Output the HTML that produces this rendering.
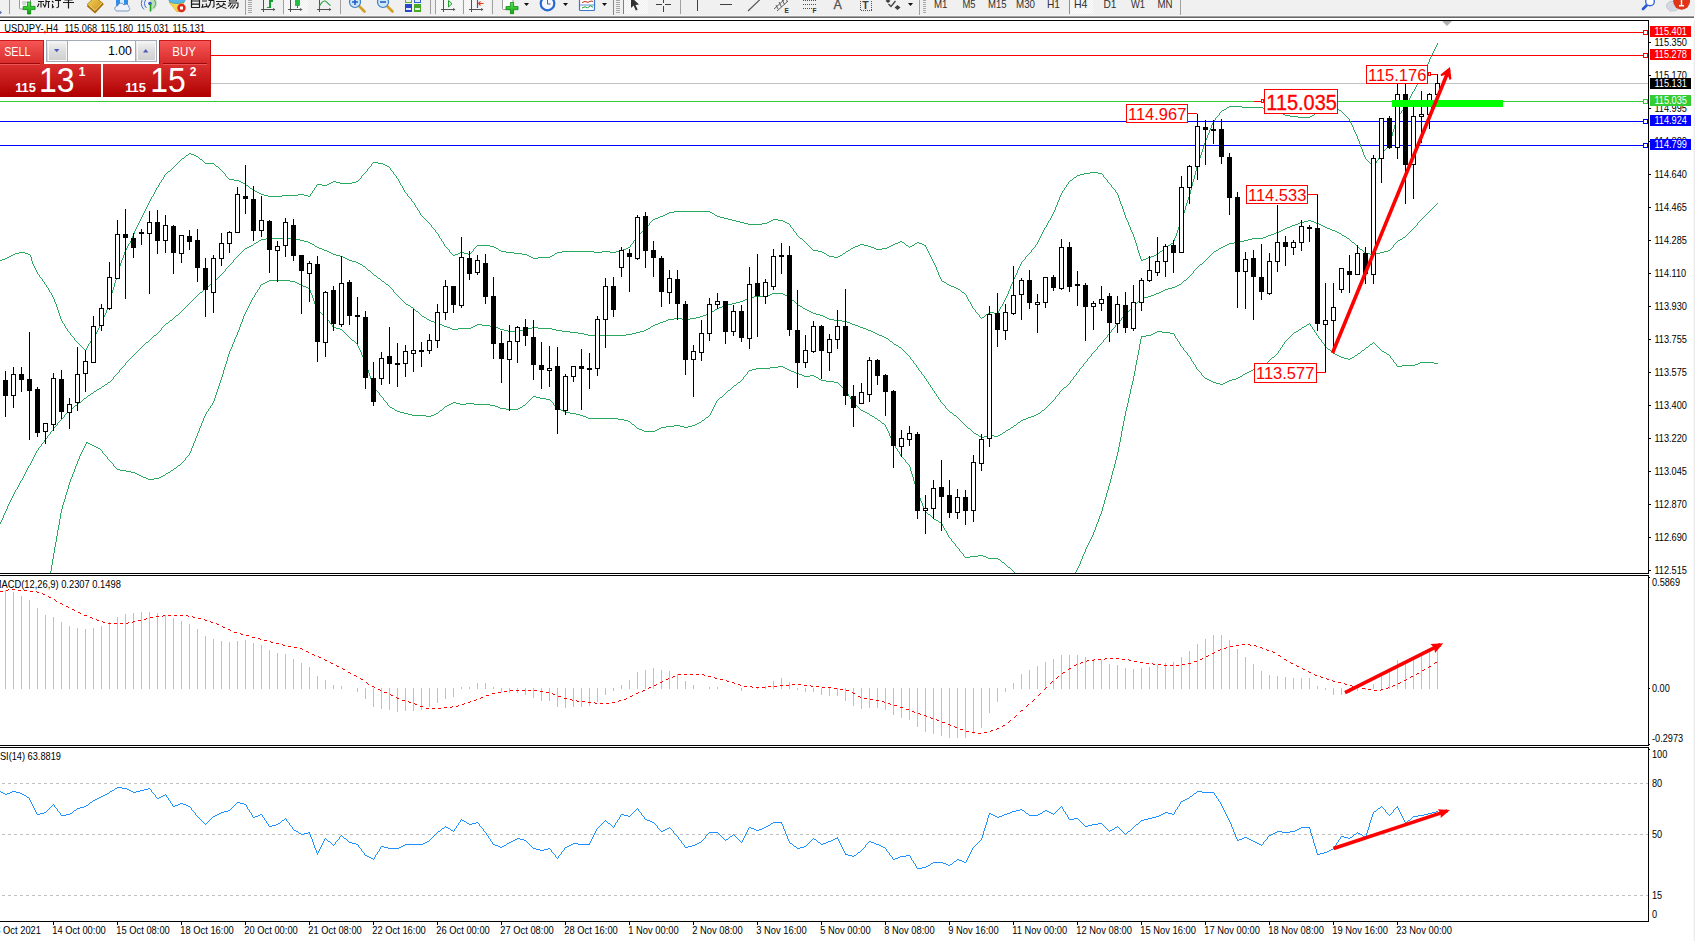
<!DOCTYPE html><html><head><meta charset="utf-8"><title>USDJPY H4</title><style>
html,body{margin:0;padding:0;background:#fff;overflow:hidden}svg{display:block}text{font-family:"Liberation Sans",sans-serif}
.ax{font-size:9px;fill:#000}.ax2{font-size:9.4px;fill:#000}.axw{font-size:9px;fill:#fff}.tb{font-size:11px;fill:#222}
</style></head><body>
<svg width="1695" height="941" viewBox="0 0 1695 941">
<defs>
<linearGradient id="gS" x1="0" y1="0" x2="0" y2="1"><stop offset="0" stop-color="#f85858"/><stop offset="1" stop-color="#d62828"/></linearGradient>
<linearGradient id="gP" x1="0" y1="0" x2="0" y2="1"><stop offset="0" stop-color="#da3030"/><stop offset="1" stop-color="#b00000"/></linearGradient>
<linearGradient id="gB" x1="0" y1="0" x2="0" y2="1"><stop offset="0" stop-color="#f4f4f4"/><stop offset="0.5" stop-color="#dcdcdc"/><stop offset="1" stop-color="#cfcfcf"/></linearGradient>
<clipPath id="cm"><rect x="0" y="21" width="1648" height="552"/></clipPath>
</defs>
<rect width="1695" height="941" fill="#fff"/>
<g clip-path="url(#cm)">
<g shape-rendering="crispEdges">
<rect x="0" y="83" width="1648" height="1" fill="#c0c0c0"/>
<rect x="0" y="32" width="1648" height="1" fill="#ff0000"/>
<rect x="0" y="55" width="1648" height="1" fill="#ff0000"/>
<rect x="0" y="101" width="1648" height="1" fill="#32cd32"/>
<rect x="0" y="121" width="1648" height="1" fill="#0000ff"/>
<rect x="0" y="145" width="1648" height="1" fill="#0000ff"/>
</g>
<path d="M9 256.5h2M529 256.5h2M550 256.5h2M829 256.5h5M838 256.5h2M1151 256.5h3M736 221.5h4M769 221.5h2M783 221.5h2M2 259.5h3M1143 259.5h3M501 251.5h5M562 251.5h32M602 251.5h8M616 251.5h4M818 251.5h4M846 251.5h2M1160 251.5h2M494 247.5h2M628 247.5h2M853 247.5h2M871 247.5h3M887 247.5h2M7 257.5h2M531 257.5h2M538 257.5h12M834 257.5h4M1148 257.5h3M663 215.5h2M715 215.5h2M477 245.5h13M858 245.5h2M864 245.5h4M891 245.5h2M906 245.5h2M912 245.5h2M924 245.5h2M1168 245.5h2M1090 172.5h8M496 248.5h2M626 248.5h2M851 248.5h2M874 248.5h2M882 248.5h5M958 289.5h2M241 182.5h2M331 182.5h2M336 182.5h4M352 182.5h4M229 179.5h5M674 211.5h36M246 185.5h2M322 185.5h5M11 255.5h2M453 255.5h2M527 255.5h2M552 255.5h2M827 255.5h2M840 255.5h2M1154 255.5h2M989 312.5h5M264 195.5h4M282 195.5h16M304 195.5h4M895 243.5h3M915 243.5h2M919 243.5h3M1171 243.5h2M373 162.5h5M317 184.5h5M327 184.5h2M655 218.5h3M724 218.5h4M257 192.5h2M253 190.5h2M740 222.5h4M767 222.5h2M785 222.5h2M986 314.5h2M0 260.5h2M1141 260.5h2M1298 117.5h12M15 253.5h4M25 253.5h3M458 253.5h2M464 253.5h4M514 253.5h8M555 253.5h2M824 253.5h2M843 253.5h2M1263 108.5h3M1325 108.5h3M1336 108.5h2M1227 107.5h2M1242 107.5h21M1328 107.5h4M1334 107.5h2M669 212.5h5M710 212.5h2M1084 173.5h6M1098 173.5h4M653 219.5h2M728 219.5h4M773 219.5h5M658 217.5h2M720 217.5h4M182 158.5h2M191 154.5h3M200 159.5h2M900 241.5h2M243 183.5h2M329 183.5h2M340 183.5h12M168 171.5h2M13 254.5h2M28 254.5h2M455 254.5h3M468 254.5h2M522 254.5h5M1156 254.5h2M732 220.5h4M771 220.5h2M778 220.5h5M19 252.5h6M460 252.5h4M506 252.5h8M557 252.5h5M594 252.5h8M610 252.5h6M822 252.5h2M744 223.5h4M762 223.5h5M787 223.5h2M623 249.5h3M876 249.5h6M268 196.5h14M308 196.5h2M1290 116.5h8M1310 116.5h2M898 242.5h2M902 242.5h2M917 242.5h2M800 238.5h2M234 180.5h5M1070 180.5h2M860 244.5h4M893 244.5h2M922 244.5h2M1229 106.5h13M1332 106.5h2M954 287.5h2M186 155.5h2M194 155.5h2M1224 109.5h2M1266 109.5h2M1323 109.5h2M947 284.5h2M255 191.5h2M1222 110.5h2M1268 110.5h6M1321 110.5h2M1339 110.5h2M982 317.5h2M490 246.5h4M855 246.5h3M868 246.5h3M889 246.5h2M910 246.5h2M1166 246.5h2M499 250.5h2M620 250.5h3M813 250.5h5M848 250.5h2M261 194.5h3M298 194.5h6M944 282.5h2M1074 177.5h2M196 156.5h2M1274 111.5h5M1319 111.5h2M1281 113.5h2M1315 113.5h2M239 181.5h2M333 181.5h3M356 181.5h2M942 281.5h2M5 258.5h2M533 258.5h5M1146 258.5h2M949 285.5h2M748 224.5h14M189 153.5h2M1279 112.5h2M1317 112.5h2M1283 114.5h2M667 213.5h2M712 213.5h2M1285 115.5h5M1312 115.5h2M385 165.5h2M1080 174.5h4M216 166.5h2M387 166.5h2M660 216.5h3M717 216.5h3M250 188.5h2M962 292.5h2M259 193.5h2M994 313.5h4M951 286.5h3M1077 175.5h3M383 164.5h2M205 163.5h9M378 163.5h5M665 214.5h2M956 288.5h2M30.5 255v2M123.5 255v3M930.5 255v2M1026.5 256v1M1140.5 256v3M139.5 221v2M427.5 221v1M651.5 221v1M1048.5 221v2M1127.5 220v2M1181.5 219v3M135.5 229v2M434.5 229v1M644.5 229v1M793.5 229v2M1044.5 228v2M1130.5 227v3M1178.5 227v3M31.5 257v4M122.5 258v2M932.5 259v2M1024.5 259v1M1141.5 259v1M1423.5 72v2M125.5 250v2M449.5 250v2M472.5 251v1M928.5 251v2M1031.5 250v2M1138.5 250v3M127.5 246v2M446.5 247v1M475.5 247v1M810.5 247v1M909.5 247v1M926.5 247v2M1034.5 247v1M1137.5 246v4M1165.5 247v1M1435.5 47v2M931.5 257v2M1025.5 257v2M142.5 215v2M421.5 215v1M1052.5 214v2M1125.5 215v3M1183.5 213v3M128.5 244v2M444.5 244v2M630.5 245v2M808.5 245v1M1035.5 245v2M1136.5 243v3M167.5 172v1M223.5 172v1M365.5 172v1M393.5 172v2M1195.5 171v4M132.5 236v3M439.5 236v2M637.5 236v1M798.5 236v1M1040.5 236v2M1133.5 234v3M1175.5 236v2M37.5 272v2M117.5 273v4M938.5 272v3M1016.5 273v2M1406.5 104v2M126.5 248v2M447.5 248v1M474.5 248v1M811.5 248v1M1033.5 248v1M1164.5 248v1M48.5 288v2M113.5 287v3M1009.5 289v2M160.5 182v1M399.5 181v2M1068.5 182v2M1108.5 182v1M1192.5 182v4M162.5 179v1M359.5 179v1M398.5 179v2M1072.5 179v1M1106.5 179v1M1193.5 179v3M144.5 211v2M419.5 211v2M1054.5 210v2M1123.5 209v3M1184.5 210v3M158.5 185v2M316.5 185v2M401.5 185v1M1066.5 185v2M1111.5 185v2M38.5 274v1M1027.5 255v1M1139.5 253v3M58.5 310v3M106.5 310v3M976.5 312v1M998.5 311v2M133.5 234v2M438.5 234v2M639.5 234v1M796.5 233v2M1041.5 234v2M1176.5 233v3M1419.5 80v2M153.5 194v2M310.5 194v2M407.5 194v2M1060.5 195v2M1118.5 195v3M1189.5 194v3M129.5 243v1M443.5 242v2M632.5 243v1M806.5 243v1M904.5 243v1M1037.5 242v2M178.5 162v1M204.5 162v1M1198.5 161v3M1369.5 162v1M1376.5 161v2M159.5 183v2M245.5 184v1M400.5 183v2M1067.5 184v1M1110.5 184v1M131.5 239v2M441.5 239v2M634.5 240v1M803.5 240v1M1038.5 240v2M1135.5 240v3M1174.5 238v3M141.5 217v2M424.5 218v1M1050.5 218v2M1126.5 218v2M1182.5 216v3M154.5 192v2M312.5 191v2M405.5 192v1M1062.5 191v2M1116.5 192v1M1190.5 190v4M1415.5 87v2M155.5 190v2M313.5 190v1M404.5 190v2M1063.5 190v1M1115.5 190v2M428.5 222v1M650.5 222v1M1128.5 222v3M1180.5 222v3M55.5 302v2M108.5 303v3M970.5 302v2M1003.5 302v2M59.5 313v3M105.5 313v2M978.5 314v1M121.5 260v3M1023.5 260v1M1216.5 117v1M1347.5 117v1M1397.5 116v2M124.5 252v3M451.5 253v1M470.5 253v1M929.5 253v2M1029.5 253v1M1158.5 253v1M1215.5 118v2M1348.5 118v1M1396.5 118v4M1226.5 108v1M1404.5 108v1M150.5 199v2M411.5 199v2M1058.5 200v2M1119.5 198v3M1187.5 200v3M1349.5 119v2M136.5 227v2M432.5 227v1M646.5 227v1M791.5 227v1M1045.5 227v1M32.5 261v3M933.5 261v2M1021.5 262v2M1405.5 106v2M145.5 209v2M418.5 210v1M635.5 239v1M802.5 239v1M1039.5 238v2M1134.5 237v3M64.5 324v2M100.5 324v2M1053.5 212v2M1124.5 212v3M166.5 173v1M224.5 173v1M364.5 173v1M1211.5 125v3M1352.5 125v2M1394.5 125v4M80.5 345v1M88.5 344v2M1022.5 261v1M1207.5 135v3M1356.5 134v2M1392.5 132v4M164.5 175v2M226.5 176v1M361.5 176v2M396.5 176v2M1076.5 176v1M1103.5 175v2M1194.5 175v4M49.5 290v2M112.5 290v3M961.5 291v1M1008.5 291v3M33.5 264v2M120.5 263v3M935.5 265v2M1020.5 264v2M140.5 219v2M425.5 219v1M423.5 217v1M1051.5 216v2M1202.5 149v3M1362.5 149v3M1383.5 151v2M199.5 158v1M1199.5 158v3M1365.5 157v2M1378.5 158v2M188.5 154v1M1201.5 152v3M1363.5 152v3M1381.5 154v1M41.5 278v1M116.5 277v3M940.5 277v2M1014.5 277v2M1429.5 59v3M181.5 159v1M1366.5 159v1M42.5 279v2M115.5 280v3M941.5 279v2M1013.5 279v3M130.5 241v2M442.5 241v1M633.5 241v2M804.5 241v1M1173.5 241v2M1109.5 183v1M222.5 171v1M366.5 171v1M392.5 171v1M452.5 254v1M554.5 254v1M826.5 254v1M842.5 254v1M1028.5 254v1M148.5 203v2M414.5 203v2M1057.5 202v3M1121.5 204v2M1186.5 203v3M426.5 220v1M652.5 220v1M1049.5 220v1M450.5 252v1M471.5 252v1M845.5 252v1M1030.5 252v1M1159.5 252v1M138.5 223v2M429.5 223v1M649.5 223v2M1047.5 223v2M54.5 299v3M110.5 296v4M968.5 299v2M1005.5 298v2M448.5 249v1M473.5 249v2M498.5 249v1M812.5 249v1M850.5 249v1M927.5 249v2M1032.5 249v1M1163.5 249v1M149.5 201v2M413.5 202v1M1120.5 201v3M152.5 196v1M408.5 196v1M134.5 231v3M436.5 232v1M641.5 232v1M795.5 232v1M1042.5 232v2M1132.5 232v2M1177.5 230v3M146.5 207v2M416.5 207v1M1055.5 207v3M1122.5 206v3M1185.5 206v4M1217.5 116v1M1346.5 116v1M805.5 242v1M934.5 263v2M440.5 238v1M636.5 237v2M72.5 336v1M94.5 336v1M161.5 180v2M358.5 180v1M1107.5 180v2M36.5 270v2M118.5 270v3M937.5 270v2M1017.5 270v3M631.5 244v1M807.5 244v1M905.5 244v1M914.5 244v1M1036.5 244v1M1170.5 244v1M65.5 326v2M99.5 326v2M1210.5 128v2M1353.5 127v3M47.5 287v1M1010.5 286v3M1200.5 155v3M1364.5 155v2M1380.5 155v2M1338.5 109v1M1403.5 109v1M1428.5 62v2M45.5 284v1M114.5 283v4M1011.5 284v2M57.5 307v3M107.5 306v4M972.5 306v2M1000.5 307v2M1402.5 110v1M60.5 316v3M103.5 317v3M980.5 317v1M445.5 246v1M476.5 246v1M809.5 246v1M908.5 246v1M925.5 246v1M981.5 318v1M1424.5 70v2M109.5 300v3M969.5 301v1M1004.5 300v2M75.5 340v1M91.5 340v1M1162.5 250v1M1061.5 193v2M1117.5 193v2M973.5 308v1M1357.5 136v3M1391.5 136v3M44.5 282v2M1012.5 282v2M799.5 237v1M163.5 177v2M227.5 177v1M1104.5 177v1M185.5 156v1M1221.5 111v1M1341.5 111v1M1401.5 111v2M228.5 178v1M360.5 178v1M397.5 178v1M1073.5 178v1M1105.5 178v1M1219.5 113v2M1343.5 113v1M1400.5 113v1M412.5 201v1M39.5 275v2M939.5 275v2M1015.5 275v2M1069.5 181v1M248.5 186v1M402.5 186v2M1191.5 186v4M43.5 281v1M974.5 309v1M999.5 309v2M433.5 228v1M645.5 228v1M792.5 228v1M77.5 342v1M90.5 341v2M137.5 225v2M431.5 225v2M647.5 226v1M790.5 225v2M1046.5 225v2M1129.5 225v2M1179.5 225v2M74.5 338v2M92.5 338v2M46.5 285v2M84.5 349v1M86.5 348v2M53.5 297v2M967.5 297v2M1006.5 296v2M430.5 224v1M789.5 224v1M437.5 233v1M640.5 233v1M1206.5 138v2M34.5 266v2M119.5 266v4M1019.5 266v2M1382.5 153v1M1220.5 112v1M1342.5 112v1M1314.5 114v1M1344.5 114v1M1399.5 114v1M435.5 230v2M642.5 231v1M794.5 231v1M1043.5 230v2M1131.5 230v2M1204.5 143v3M1360.5 144v3M1389.5 143v2M143.5 213v2M420.5 213v2M1208.5 133v2M157.5 187v1M249.5 187v1M315.5 187v1M1065.5 187v1M1112.5 187v1M1218.5 115v1M1345.5 115v1M1398.5 115v1M1059.5 197v3M1188.5 197v3M171.5 169v1M220.5 169v1M367.5 169v2M390.5 168v2M1196.5 167v4M1431.5 55v2M1205.5 140v3M1358.5 139v2M1390.5 139v4M52.5 295v2M111.5 293v3M966.5 295v2M1007.5 294v2M35.5 268v2M936.5 267v3M1018.5 268v2M62.5 321v2M101.5 322v2M1203.5 146v3M1361.5 147v2M1387.5 146v2M66.5 328v1M98.5 328v2M76.5 341v1M180.5 160v1M202.5 160v1M1367.5 160v1M1377.5 160v1M1359.5 141v3M175.5 165v1M215.5 165v1M371.5 164v2M1197.5 164v3M1372.5 165v1M1374.5 164v2M51.5 293v2M964.5 293v1M70.5 333v2M96.5 332v2M165.5 174v1M225.5 174v2M363.5 174v1M394.5 174v1M1102.5 174v1M1385.5 149v1M960.5 290v1M417.5 208v2M83.5 348v1M174.5 166v1M370.5 166v1M1373.5 166v1M1209.5 130v3M1354.5 130v2M1393.5 129v3M422.5 216v1M156.5 188v2M314.5 188v2M403.5 188v2M1064.5 188v2M1113.5 188v1M173.5 167v1M218.5 167v1M369.5 167v1M389.5 167v1M50.5 292v1M71.5 335v1M95.5 334v2M311.5 193v1M406.5 193v1M648.5 225v1M1436.5 45v2M638.5 235v1M797.5 235v1M1213.5 121v2M1350.5 121v2M1395.5 122v3M1212.5 123v2M1351.5 123v2M1420.5 78v2M965.5 294v1M1355.5 132v2M977.5 313v1M988.5 313v1M179.5 161v1M203.5 161v1M1368.5 161v1M151.5 197v2M409.5 197v1M975.5 310v2M78.5 343v1M89.5 343v1M643.5 230v1M1214.5 120v1M85.5 350v1M410.5 198v1M172.5 168v1M219.5 168v1M368.5 168v1M946.5 283v1M104.5 315v2M979.5 315v2M984.5 316v1M69.5 332v1M1418.5 82v2M1430.5 57v2M147.5 205v2M415.5 205v2M1056.5 205v2M1414.5 89v2M1410.5 96v2M40.5 277v1M362.5 175v1M395.5 175v1M1409.5 98v2M79.5 344v1M176.5 164v1M214.5 164v1M1371.5 164v1M184.5 157v1M198.5 157v1M1379.5 157v1M985.5 315v1M1388.5 145v1M81.5 346v1M87.5 346v2M1427.5 64v2M1386.5 148v1M177.5 163v1M372.5 163v1M1370.5 163v1M1375.5 163v1M56.5 304v3M971.5 304v2M1002.5 304v2M1413.5 91v1M1426.5 66v2M252.5 189v1M1114.5 189v1M1437.5 43v2M1425.5 68v2M68.5 331v1M97.5 330v2M714.5 214v1M170.5 170v1M221.5 170v1M391.5 170v1M1416.5 85v2M1412.5 92v2M67.5 329v2M1422.5 74v2M1434.5 49v2M61.5 319v2M82.5 347v1M1433.5 51v2M102.5 320v2M1384.5 150v1M1432.5 53v2M63.5 323v1M1001.5 306v1M73.5 337v1M93.5 337v1M1421.5 76v2M1411.5 94v2M1407.5 102v2M1408.5 100v2M1417.5 84v1" fill="none" stroke="#2aa860" stroke-width="1" shape-rendering="crispEdges"/>
<path d="M266 238.5h30M1252 238.5h11M1347 238.5h2M504 330.5h4M520 330.5h4M556 330.5h6M644 330.5h2M868 330.5h3M452 329.5h6M500 329.5h4M524 329.5h4M552 329.5h4M646 329.5h2M866 329.5h2M322 249.5h2M1360 249.5h2M508 331.5h12M562 331.5h8M640 331.5h4M871 331.5h2M450 328.5h2M458 328.5h13M498 328.5h2M528 328.5h4M538 328.5h14M648 328.5h2M863 328.5h3M329 252.5h2M1380 252.5h4M249 246.5h2M315 246.5h2M1223 246.5h2M256 242.5h2M308 242.5h2M1234 242.5h6M1352 242.5h2M154 335.5h2M588 335.5h38M879 335.5h3M91 393.5h2M304 241.5h4M1240 241.5h4M331 253.5h2M1365 253.5h5M1376 253.5h4M894 344.5h2M674 318.5h8M690 318.5h6M827 318.5h2M979 436.5h2M984 436.5h4M994 436.5h4M411 307.5h2M719 307.5h3M368 270.5h2M427 319.5h2M668 319.5h6M682 319.5h8M829 319.5h5M1021 420.5h2M324 250.5h3M1216 250.5h2M1388 250.5h2M352 261.5h4M345 258.5h2M336 255.5h4M570 332.5h8M636 332.5h4M873 332.5h2M988 435.5h6M998 435.5h2M710 312.5h2M811 312.5h2M254 243.5h2M310 243.5h2M1229 243.5h5M259 240.5h2M300 240.5h4M1244 240.5h4M1398 240.5h2M245 248.5h2M319 248.5h3M1219 248.5h2M950 412.5h2M447 327.5h3M471 327.5h2M495 327.5h3M532 327.5h6M860 327.5h3M166 323.5h2M436 323.5h3M658 323.5h2M850 323.5h2M442 325.5h2M475 325.5h2M482 325.5h8M653 325.5h2M855 325.5h3M363 266.5h2M749 297.5h5M1144 297.5h4M374 275.5h2M882 336.5h2M767 295.5h3M785 295.5h2M1151 295.5h3M75 405.5h2M408 305.5h2M724 305.5h4M798 305.5h2M717 308.5h2M803 308.5h2M578 333.5h6M632 333.5h4M875 333.5h2M1300 222.5h4M1314 222.5h2M356 262.5h2M1271 234.5h3M1011 427.5h2M1038 413.5h2M708 313.5h2M813 313.5h3M97 389.5h2M1266 236.5h2M1344 236.5h2M434 322.5h2M660 322.5h3M847 322.5h3M1292 225.5h3M1321 225.5h2M84 398.5h2M747 298.5h2M1141 298.5h3M1003 432.5h2M210 284.5h2M386 284.5h2M1179 284.5h2M1276 232.5h3M1337 232.5h2M1285 228.5h2M1327 228.5h3M1177 285.5h2M884 337.5h2M715 309.5h2M805 309.5h2M1175 286.5h2M740 301.5h3M1274 233.5h2M1339 233.5h2M1168 288.5h4M1263 237.5h3M1403 237.5h2M378 278.5h2M1008 429.5h2M358 263.5h2M406 304.5h2M728 304.5h4M770 294.5h2M783 294.5h2M1154 294.5h2M743 300.5h2M792 300.5h2M1064 387.5h2M732 303.5h4M340 256.5h3M439 324.5h3M477 324.5h5M655 324.5h3M852 324.5h3M1031 416.5h3M88 395.5h2M1281 230.5h2M1332 230.5h3M206 287.5h2M1172 287.5h3M349 260.5h3M170 320.5h2M429 320.5h2M666 320.5h2M834 320.5h8M105 384.5h2M1018 422.5h2M416 311.5h2M712 311.5h2M809 311.5h2M772 293.5h11M1156 293.5h3M584 334.5h4M626 334.5h6M877 334.5h2M1287 227.5h3M1325 227.5h2M1295 224.5h3M1319 224.5h2M327 251.5h2M1214 251.5h2M1384 251.5h4M247 247.5h2M317 247.5h2M1221 247.5h2M94 391.5h2M200 292.5h2M1159 292.5h2M251 245.5h2M1225 245.5h2M261 239.5h5M296 239.5h4M1248 239.5h4M1400 239.5h2M312 244.5h2M1227 244.5h2M754 296.5h13M787 296.5h2M1148 296.5h3M424 317.5h2M696 317.5h4M825 317.5h2M976 434.5h2M1000 434.5h2M1161 291.5h2M146 342.5h2M382 281.5h2M736 302.5h4M722 306.5h2M800 306.5h2M70 409.5h2M422 316.5h2M700 316.5h3M823 316.5h2M1026 418.5h2M1283 229.5h2M1330 229.5h2M886 338.5h2M343 257.5h2M102 386.5h2M1165 289.5h3M444 326.5h3M473 326.5h2M490 326.5h5M651 326.5h2M858 326.5h2M1298 223.5h2M1316 223.5h3M79 402.5h2M431 321.5h3M663 321.5h3M842 321.5h5M1268 235.5h3M1342 235.5h2M333 254.5h3M1370 254.5h6M176 315.5h2M703 315.5h3M820 315.5h3M974 433.5h2M706 314.5h2M816 314.5h4M1028 417.5h3M981 437.5h3M807 310.5h2M1279 231.5h2M1335 231.5h2M108 382.5h2M968 428.5h2M745 299.5h2M1304 221.5h4M1311 221.5h3M1006 430.5h2M896 345.5h2M347 259.5h2M1308 220.5h3M954 415.5h2M1034 415.5h2M1036 414.5h2M899 347.5h2M1184 280.5h2M890 341.5h2M1163 290.5h2M99 388.5h2M1042 410.5h2M1023 419.5h3M360 264.5h2M1200 264.5h2M1014 425.5h2M1290 226.5h2M1323 226.5h2M1402.5 238v1M160.5 330v1M1111.5 330v2M161.5 328v2M1112.5 329v1M244.5 249v1M1218.5 249v1M1390.5 249v1M119.5 370v2M919.5 370v1M1079.5 369v2M159.5 331v1M1113.5 328v1M241.5 252v1M1213.5 252v1M1364.5 252v1M1357.5 246v1M1393.5 245v2M1396.5 242v1M1107.5 335v2M935.5 393v1M1059.5 392v2M258.5 241v1M1351.5 241v1M1397.5 241v1M240.5 253v1M1212.5 253v1M114.5 376v1M924.5 376v2M1074.5 376v1M144.5 344v1M1100.5 344v1M173.5 318v1M426.5 318v1M1121.5 318v2M47.5 436v2M185.5 307v1M802.5 307v1M1132.5 307v1M125.5 363v2M914.5 363v1M1084.5 363v1M225.5 269v2M1194.5 270v1M172.5 319v1M60.5 420v1M960.5 420v1M1430.5 210v1M243.5 250v1M1362.5 250v1M233.5 260v2M1204.5 261v1M28.5 466v2M235.5 258v1M1207.5 258v1M11.5 498v2M238.5 255v1M1210.5 255v1M158.5 332v1M1110.5 332v1M48.5 435v1M978.5 435v1M180.5 312v1M418.5 312v1M1127.5 312v1M1354.5 243v1M1395.5 243v1M1350.5 240v1M1359.5 248v1M1391.5 248v1M51.5 431v1M972.5 431v1M1005.5 431v1M67.5 412v1M1040.5 412v1M129.5 359v1M911.5 359v1M1087.5 359v2M162.5 327v1M650.5 327v1M1114.5 327v1M1117.5 323v1M164.5 325v1M1115.5 325v2M228.5 266v1M1198.5 266v1M195.5 297v1M399.5 297v1M789.5 297v1M220.5 275v1M1190.5 275v1M153.5 336v1M197.5 295v1M397.5 295v1M944.5 405v1M1048.5 405v1M112.5 379v1M926.5 379v2M1072.5 379v1M187.5 305v1M1134.5 305v1M184.5 308v1M413.5 308v1M1131.5 308v1M157.5 333v1M1109.5 333v1M1418.5 222v1M232.5 262v1M1203.5 262v1M59.5 421v1M961.5 421v1M1020.5 421v1M104.5 385v1M930.5 385v2M1067.5 385v1M1341.5 234v1M1407.5 234v1M54.5 427v1M967.5 427v1M66.5 413v1M952.5 413v1M39.5 447v1M179.5 313v1M419.5 313v1M1126.5 313v1M932.5 388v2M1062.5 389v1M22.5 478v2M1405.5 236v1M168.5 322v1M1118.5 322v1M132.5 356v1M909.5 356v1M1090.5 356v1M1416.5 225v1M938.5 397v2M1055.5 397v2M194.5 298v1M400.5 298v1M790.5 298v1M50.5 432v2M973.5 432v1M1409.5 232v1M1413.5 228v1M209.5 285v1M388.5 285v1M152.5 337v1M1106.5 337v1M183.5 309v1M414.5 309v1M1130.5 309v1M208.5 286v1M389.5 286v1M191.5 301v1M403.5 301v1M794.5 301v1M1138.5 301v1M367.5 269v1M1195.5 269v1M1408.5 233v1M42.5 443v1M205.5 288v1M391.5 288v1M73.5 407v1M945.5 406v2M1046.5 407v1M1346.5 237v1M217.5 278v1M1187.5 278v1M53.5 428v2M970.5 429v1M82.5 400v1M940.5 400v2M1053.5 400v1M113.5 377v2M925.5 378v1M1073.5 377v2M231.5 263v1M1202.5 263v1M188.5 304v1M797.5 304v1M1135.5 304v1M198.5 294v1M396.5 294v1M213.5 282v1M384.5 282v1M1182.5 282v1M224.5 271v1M370.5 271v1M1193.5 271v2M192.5 300v1M402.5 300v1M1139.5 300v1M101.5 387v1M931.5 387v1M189.5 303v1M405.5 303v1M796.5 303v1M1136.5 303v1M1.5 520v2M81.5 401v1M1052.5 401v1M237.5 256v1M1209.5 256v1M165.5 324v1M1116.5 324v1M64.5 415v2M956.5 416v1M216.5 279v1M380.5 279v1M1186.5 279v1M936.5 394v2M1057.5 395v1M135.5 353v1M906.5 353v1M1092.5 353v1M1411.5 230v1M390.5 287v1M1205.5 260v1M1120.5 320v1M929.5 384v1M1068.5 384v1M126.5 362v1M913.5 361v2M1085.5 362v1M58.5 422v1M962.5 422v1M83.5 399v1M939.5 399v1M1054.5 399v1M138.5 350v1M903.5 350v1M1095.5 350v1M1437.5 203v1M181.5 311v1M1128.5 311v1M199.5 293v1M395.5 293v1M8.5 504v2M156.5 334v1M1108.5 334v1M1414.5 227v1M1417.5 223v2M242.5 251v1M1363.5 251v1M145.5 343v1M893.5 343v1M1101.5 343v1M1358.5 247v1M1392.5 247v1M934.5 391v2M1060.5 391v1M55.5 426v1M966.5 426v1M1013.5 426v1M24.5 474v2M394.5 292v1M86.5 397v1M314.5 245v1M1356.5 245v1M7.5 506v3M1349.5 239v1M253.5 244v1M1355.5 244v1M1394.5 244v1M196.5 296v1M398.5 296v1M174.5 317v1M1122.5 317v1M20.5 481v2M49.5 434v1M133.5 355v1M908.5 355v1M1091.5 354v2M202.5 291v1M393.5 290v2M892.5 342v1M1102.5 342v1M74.5 406v1M1047.5 406v1M214.5 281v1M1183.5 281v1M43.5 442v1M915.5 364v1M1083.5 364v2M38.5 448v2M920.5 371v1M1078.5 371v1M190.5 302v1M404.5 302v1M795.5 302v1M1137.5 302v1M186.5 306v1M410.5 306v1M1133.5 306v1M137.5 351v1M904.5 351v1M1094.5 351v1M34.5 455v2M947.5 409v1M1044.5 409v1M131.5 357v1M910.5 357v2M1089.5 357v1M175.5 316v1M1123.5 316v1M229.5 265v1M362.5 265v1M1199.5 265v1M62.5 418v1M958.5 418v1M1412.5 229v1M151.5 338v1M1105.5 338v1M226.5 268v1M366.5 268v1M1196.5 268v1M218.5 277v1M377.5 277v1M1188.5 277v1M236.5 257v1M1208.5 257v1M1066.5 386v1M204.5 289v1M392.5 289v1M163.5 326v1M1424.5 216v1M33.5 457v2M130.5 358v1M1088.5 358v1M1431.5 209v1M29.5 465v1M221.5 274v1M373.5 274v1M1191.5 274v1M107.5 383v1M928.5 382v2M1069.5 383v1M941.5 402v1M1051.5 402v1M124.5 365v1M916.5 365v2M78.5 403v1M942.5 403v1M1050.5 403v1M77.5 404v1M943.5 404v1M1049.5 404v1M169.5 321v1M1119.5 321v1M87.5 396v1M937.5 396v1M1056.5 396v1M111.5 380v1M1071.5 380v1M227.5 267v1M365.5 267v1M1197.5 267v1M1406.5 235v1M239.5 254v1M1211.5 254v1M134.5 354v1M907.5 354v1M421.5 315v1M1124.5 315v1M128.5 360v1M912.5 360v1M150.5 339v1M888.5 339v1M1104.5 339v1M127.5 361v1M1086.5 361v1M123.5 366v1M1082.5 366v1M110.5 381v1M927.5 381v1M1070.5 381v2M93.5 392v1M1002.5 433v1M23.5 476v2M178.5 314v1M420.5 314v1M1125.5 314v1M19.5 483v2M63.5 417v1M957.5 417v1M3.5 515v3M15.5 490v2M142.5 346v1M898.5 346v1M1098.5 346v1M90.5 394v1M1058.5 394v1M182.5 310v1M415.5 310v1M714.5 310v1M1129.5 310v1M18.5 485v2M120.5 369v1M918.5 368v2M1410.5 231v1M2.5 518v2M14.5 492v2M1423.5 217v1M68.5 411v1M949.5 411v1M1041.5 411v1M118.5 372v1M921.5 372v2M1077.5 372v1M9.5 502v2M96.5 390v1M933.5 390v1M1061.5 390v1M1010.5 428v1M115.5 375v1M923.5 375v1M1075.5 375v1M193.5 299v1M401.5 299v1M791.5 299v1M1140.5 299v1M1419.5 221v1M41.5 444v2M52.5 430v1M971.5 430v1M72.5 408v1M946.5 408v1M1045.5 408v1M149.5 340v1M889.5 340v1M1103.5 340v2M143.5 345v1M1099.5 345v1M121.5 368v1M1080.5 368v1M234.5 259v1M1206.5 259v1M117.5 373v1M1076.5 373v2M1436.5 204v1M1420.5 220v1M10.5 500v2M65.5 414v1M953.5 414v1M141.5 347v1M1097.5 347v2M57.5 423v2M963.5 423v1M1017.5 423v1M215.5 280v1M381.5 280v1M36.5 451v2M116.5 374v1M922.5 374v1M32.5 459v2M148.5 341v1M203.5 290v1M35.5 453v2M31.5 461v2M1428.5 212v1M27.5 468v2M964.5 424v1M1016.5 424v1M136.5 352v1M905.5 352v1M1093.5 352v1M1435.5 205v1M1432.5 208v1M30.5 463v2M26.5 470v2M122.5 367v1M917.5 367v1M1081.5 367v1M219.5 276v1M376.5 276v1M1189.5 276v1M44.5 440v2M1063.5 388v1M222.5 273v1M372.5 273v1M1192.5 273v1M13.5 494v2M1422.5 218v1M223.5 272v1M371.5 272v1M1429.5 211v1M69.5 410v1M948.5 410v1M61.5 419v1M959.5 419v1M230.5 264v1M6.5 509v2M46.5 438v1M25.5 472v2M139.5 349v1M902.5 349v1M1096.5 349v1M5.5 511v2M40.5 446v1M4.5 513v2M212.5 283v1M385.5 283v1M1181.5 283v1M1421.5 219v1M1433.5 207v1M1425.5 215v1M45.5 439v1M56.5 425v1M965.5 425v1M140.5 348v1M901.5 348v1M1415.5 226v1M17.5 487v2M1427.5 213v1M1434.5 206v1M0.5 522v2M12.5 496v2M21.5 480v1M37.5 450v1M16.5 489v1M1426.5 214v1" fill="none" stroke="#2aa860" stroke-width="1" shape-rendering="crispEdges"/>
<path d="M644 431.5h11M506 409.5h12M559 409.5h2M336 328.5h4M392 408.5h2M500 408.5h6M518 408.5h2M557 408.5h2M826 381.5h8M1211 381.5h2M1227 381.5h2M1335 354.5h2M1387 354.5h2M1216 383.5h4M1223 383.5h2M1043 588.5h2M1048 588.5h4M1058 588.5h5M799 374.5h3M1243 374.5h2M970 556.5h8M983 556.5h3M96 447.5h2M148 479.5h6M1402 365.5h13M816 377.5h2M1238 377.5h2M412 415.5h14M431 415.5h3M580 415.5h3M870 415.5h2M1153 333.5h2M1170 333.5h4M796 373.5h3M1245 373.5h2M934 519.5h2M174 468.5h2M1041 587.5h2M1052 587.5h6M1063 587.5h3M1220 384.5h3M126 471.5h5M749 370.5h3M789 370.5h2M1251 370.5h2M1034 584.5h2M632 424.5h2M695 424.5h2M624 420.5h4M702 420.5h2M878 420.5h2M728 390.5h2M1141 336.5h5M146 478.5h2M154 478.5h5M340 329.5h2M1299 329.5h2M804 376.5h6M814 376.5h2M1240 376.5h2M395 410.5h2M440 410.5h2M561 410.5h2M861 410.5h2M449 404.5h2M460 404.5h6M474 404.5h16M1008 567.5h2M139 475.5h2M163 475.5h2M135 473.5h2M166 473.5h2M143 477.5h3M159 477.5h2M1304 326.5h2M533 396.5h3M699 422.5h2M1272 357.5h2M1341 357.5h3M1352 357.5h2M586 417.5h2M706 417.5h2M1344 358.5h4M1350 358.5h2M770 367.5h8M783 367.5h2M791 371.5h3M1249 371.5h2M752 369.5h4M787 369.5h2M1253 369.5h9M1333 353.5h2M1358 353.5h2M447 405.5h2M490 405.5h5M523 405.5h2M120 470.5h6M171 470.5h2M1151 334.5h2M738 382.5h2M834 382.5h4M1213 382.5h3M1225 382.5h2M661 427.5h5M684 427.5h4M1415 364.5h3M1146 335.5h5M269 280.5h21M1036 585.5h3M1068 585.5h2M1382 351.5h2M451 403.5h2M456 403.5h4M466 403.5h8M998 559.5h2M453 402.5h3M1348 359.5h2M92 445.5h2M86 442.5h2M1337 355.5h2M1355 355.5h2M1370 344.5h2M1328 349.5h2M426 416.5h5M583 416.5h3M872 416.5h2M445 406.5h2M495 406.5h3M802 375.5h2M810 375.5h4M618 419.5h6M333 327.5h3M1302 327.5h2M397 411.5h3M563 411.5h2M863 411.5h2M352 340.5h2M408 414.5h4M434 414.5h2M576 414.5h4M546 399.5h4M178 465.5h2M978 555.5h5M965 557.5h5M986 557.5h2M308 288.5h2M1031 583.5h3M306 287.5h2M390 407.5h2M498 407.5h2M520 407.5h2M1362 350.5h2M1339 356.5h2M588 418.5h30M875 418.5h2M540 398.5h6M94 446.5h2M936 520.5h2M734 385.5h2M756 368.5h14M785 368.5h2M778 366.5h5M1397 366.5h5M1016 574.5h2M794 372.5h2M1247 372.5h2M988 558.5h10M131 472.5h4M168 472.5h2M1157 331.5h5M1296 331.5h2M819 379.5h2M1207 379.5h2M1232 379.5h4M821 380.5h5M1209 380.5h2M1229 380.5h3M1420 362.5h14M265 282.5h2M295 282.5h2M1418 363.5h2M1434 363.5h4M666 426.5h8M680 426.5h4M688 426.5h4M639 429.5h3M657 429.5h2M303 286.5h3M117 469.5h3M1155 332.5h2M1162 332.5h8M1294 332.5h2M90 444.5h2M1045 589.5h3M1023 579.5h2M1029 582.5h2M674 425.5h6M692 425.5h3M536 397.5h4M720 397.5h2M642 430.5h2M655 430.5h2M939 522.5h2M404 413.5h4M436 413.5h2M570 413.5h6M867 413.5h2M928 514.5h2M1384 352.5h2M267 281.5h2M290 281.5h5M141 476.5h2M161 476.5h2M1002 562.5h2M261 284.5h2M299 284.5h2M1027 581.5h2M1021 578.5h2M637 428.5h2M659 428.5h2M697 423.5h2M882 423.5h2M1307 324.5h2M88 443.5h2M98 448.5h2M1366 347.5h2M400 412.5h4M565 412.5h5M865 412.5h2M301 285.5h2M1205 378.5h2M1236 378.5h2M1025 580.5h2M137 474.5h2M263 283.5h2M297 283.5h2M628 421.5h2M1039 586.5h2M1066 586.5h2M322 314.5h2M318 311.5h2M56.5 536v6M950.5 538v1M1091.5 537v2M215.5 395v3M380.5 395v1M723.5 395v1M848.5 394v2M1129.5 394v4M198.5 431v2M888.5 431v2M1121.5 431v6M208.5 409v2M394.5 409v1M442.5 409v1M712.5 409v2M860.5 409v1M1126.5 407v4M239.5 327v3M1301.5 328v1M1312.5 327v2M209.5 408v1M443.5 408v1M713.5 407v2M859.5 408v1M231.5 347v2M359.5 348v2M1139.5 344v6M1183.5 348v2M1280.5 348v2M1327.5 348v1M1365.5 348v1M1379.5 348v1M220.5 380v3M371.5 379v3M740.5 381v1M1132.5 381v4M70.5 479v3M913.5 477v4M1110.5 479v4M197.5 433v3M889.5 433v3M61.5 509v4M924.5 508v2M1102.5 507v4M228.5 354v3M361.5 352v3M1138.5 350v5M1187.5 353v2M1276.5 354v1M1357.5 354v1M219.5 383v3M372.5 382v3M737.5 383v1M838.5 383v1M51.5 565v6M1010.5 568v1M1077.5 568v2M55.5 542v5M953.5 542v1M1089.5 541v2M222.5 374v3M369.5 373v3M746.5 374v1M1134.5 371v5M1201.5 373v2M53.5 553v6M964.5 556v1M1082.5 556v3M84.5 446v2M192.5 446v2M895.5 446v2M1118.5 447v5M225.5 364v3M366.5 364v3M1135.5 365v6M1195.5 365v2M1265.5 364v2M1396.5 364v2M77.5 461v3M111.5 462v1M182.5 462v1M906.5 462v1M1115.5 460v4M221.5 377v3M370.5 376v3M743.5 377v2M1133.5 376v5M1204.5 377v1M205.5 414v2M709.5 415v1M1125.5 411v5M237.5 332v3M345.5 333v1M1293.5 333v1M1316.5 333v2M223.5 370v4M747.5 372v2M59.5 519v6M1098.5 519v3M54.5 547v6M959.5 549v2M1085.5 549v3M75.5 466v3M116.5 468v1M910.5 467v4M1113.5 468v3M736.5 384v1M839.5 384v1M74.5 469v3M170.5 471v1M911.5 471v3M1112.5 471v4M368.5 370v3M1198.5 370v1M1069.5 584v1M201.5 423v3M884.5 424v1M1123.5 421v5M1018.5 575v1M1074.5 574v2M203.5 418v3M1124.5 416v5M217.5 389v3M376.5 390v1M845.5 390v1M1130.5 389v5M236.5 335v2M348.5 336v1M1175.5 336v2M1290.5 336v1M1318.5 336v2M71.5 477v2M1111.5 475v4M65.5 495v4M919.5 496v2M1105.5 497v3M1313.5 329v1M232.5 344v3M357.5 344v2M1180.5 344v2M1282.5 345v2M1324.5 344v2M1369.5 345v1M1376.5 345v1M744.5 376v1M1203.5 376v1M212.5 403v2M387.5 403v2M525.5 404v1M553.5 403v2M715.5 403v2M855.5 404v1M1127.5 403v4M1078.5 566v2M72.5 474v3M912.5 474v3M73.5 472v2M241.5 322v2M329.5 321v2M240.5 324v3M332.5 325v2M1311.5 326v1M196.5 436v2M890.5 436v2M62.5 505v4M923.5 506v2M195.5 438v3M892.5 440v2M1120.5 437v5M381.5 396v1M722.5 396v1M849.5 396v1M82.5 450v2M102.5 451v2M190.5 451v2M898.5 451v1M955.5 544v2M1087.5 545v2M202.5 421v2M630.5 422v1M881.5 422v1M227.5 357v4M363.5 357v2M1137.5 355v5M1190.5 357v2M1390.5 356v2M60.5 513v6M931.5 516v1M1099.5 516v3M204.5 416v2M874.5 417v1M1271.5 358v1M1391.5 358v1M956.5 546v1M110.5 461v1M183.5 461v1M905.5 460v2M224.5 367v3M367.5 367v3M1196.5 367v2M1263.5 367v1M58.5 525v5M942.5 524v2M1096.5 524v3M748.5 371v1M1199.5 371v1M358.5 346v2M1181.5 346v1M1325.5 346v1M1368.5 346v1M1377.5 346v1M1197.5 369v1M229.5 351v3M1277.5 353v1M1386.5 353v1M211.5 405v1M388.5 405v1M554.5 405v1M714.5 405v2M856.5 405v1M52.5 559v6M1004.5 563v1M1080.5 561v3M64.5 499v3M920.5 498v3M346.5 334v1M1174.5 334v2M1292.5 334v1M377.5 391v1M727.5 391v1M846.5 391v2M200.5 426v2M636.5 427v1M886.5 427v2M1122.5 426v5M1136.5 360v5M1194.5 364v1M1005.5 564v1M1079.5 564v2M1006.5 565v1M347.5 335v1M1291.5 335v1M1317.5 335v1M360.5 350v2M1185.5 351v1M1278.5 351v2M1331.5 351v1M1361.5 351v1M526.5 403v1M854.5 403v1M1081.5 559v2M57.5 530v6M947.5 533v2M1093.5 532v3M213.5 401v2M386.5 402v1M527.5 402v1M552.5 402v1M716.5 401v2M853.5 402v1M1128.5 398v5M364.5 359v2M1191.5 359v2M1270.5 359v1M1392.5 359v1M958.5 548v1M1086.5 547v2M85.5 444v2M193.5 443v3M894.5 444v2M1119.5 442v5M194.5 441v2M893.5 442v2M362.5 355v2M1188.5 355v1M1275.5 355v1M1389.5 355v1M101.5 450v1M191.5 448v3M897.5 449v2M81.5 452v2M103.5 453v1M189.5 453v2M899.5 452v2M1117.5 452v4M216.5 392v3M378.5 392v1M726.5 392v1M76.5 464v2M113.5 464v2M180.5 464v1M908.5 464v1M1114.5 464v4M67.5 489v3M916.5 487v4M1108.5 486v4M1283.5 344v1M1375.5 344v1M233.5 342v2M355.5 342v1M1140.5 339v5M1179.5 342v2M1284.5 342v2M1322.5 342v1M1373.5 342v1M230.5 349v2M1364.5 349v1M1380.5 349v1M708.5 416v1M210.5 406v2M389.5 406v1M522.5 406v1M555.5 406v1M857.5 406v1M745.5 375v1M1202.5 375v1M1242.5 375v1M63.5 502v3M921.5 501v2M1104.5 500v4M704.5 419v1M877.5 419v1M1000.5 560v1M207.5 411v1M439.5 411v1M711.5 411v2M234.5 339v3M1177.5 339v2M1286.5 340v1M1321.5 340v2M710.5 413v2M869.5 414v1M214.5 398v3M383.5 398v2M530.5 399v1M718.5 399v1M851.5 399v1M1001.5 561v1M948.5 535v2M1092.5 535v2M909.5 465v2M379.5 393v2M724.5 394v1M960.5 551v1M1107.5 490v3M963.5 554v2M1083.5 554v2M1269.5 360v1M1393.5 360v2M259.5 287v2M1070.5 582v2M943.5 526v2M114.5 466v1M177.5 466v1M235.5 337v2M350.5 338v1M1141.5 337v2M1176.5 338v1M1288.5 338v1M1319.5 338v1M444.5 407v1M556.5 407v1M858.5 407v1M69.5 482v3M914.5 481v3M1109.5 483v3M384.5 400v1M529.5 400v1M550.5 400v1M717.5 400v1M852.5 400v2M242.5 319v3M327.5 319v1M1184.5 350v1M1279.5 350v1M1330.5 350v1M1381.5 350v1M66.5 492v3M917.5 491v3M1106.5 493v4M79.5 456v3M107.5 457v2M185.5 458v2M903.5 458v1M1116.5 456v4M1189.5 356v1M1274.5 356v1M1354.5 356v1M705.5 418v1M531.5 398v1M719.5 398v1M850.5 397v2M373.5 385v2M840.5 385v1M1131.5 385v4M1262.5 368v1M925.5 510v2M115.5 467v1M176.5 467v1M1264.5 366v1M385.5 401v1M528.5 401v1M551.5 401v1M112.5 463v1M181.5 463v1M907.5 463v1M933.5 518v1M1200.5 372v1M354.5 341v1M1178.5 341v1M1285.5 341v1M258.5 289v1M309.5 289v1M238.5 330v2M343.5 331v1M1314.5 330v2M254.5 295v2M312.5 295v3M951.5 539v2M1090.5 539v2M742.5 379v1M930.5 515v1M1100.5 514v2M1101.5 511v3M741.5 380v1M226.5 361v3M365.5 361v3M1193.5 362v2M1267.5 362v1M1394.5 362v1M1266.5 363v1M1395.5 363v1M1020.5 577v1M1073.5 576v2M938.5 521v1M635.5 426v1M885.5 425v2M199.5 428v3M887.5 429v2M260.5 285v2M173.5 469v1M344.5 332v1M1315.5 332v1M946.5 531v2M328.5 320v1M83.5 448v2M100.5 449v1M926.5 512v1M80.5 454v2M105.5 455v1M188.5 455v1M900.5 454v2M927.5 513v1M249.5 304v2M315.5 304v2M725.5 393v1M847.5 393v1M1072.5 578v2M962.5 553v1M1084.5 552v2M245.5 312v2M320.5 312v1M342.5 330v1M1298.5 330v1M634.5 425v1M218.5 386v3M374.5 387v1M732.5 387v1M842.5 387v1M382.5 397v1M532.5 397v1M1097.5 522v2M944.5 528v2M1095.5 527v3M349.5 337v1M1289.5 337v1M1007.5 566v1M351.5 339v1M1287.5 339v1M1320.5 339v1M1019.5 576v1M330.5 323v1M1309.5 323v1M922.5 503v3M1103.5 504v3M206.5 412v2M932.5 517v1M1186.5 352v1M1332.5 352v1M1360.5 352v1M50.5 571v3M1013.5 571v1M1076.5 570v2M1014.5 572v1M1075.5 572v2M106.5 456v1M187.5 456v1M901.5 456v1M1306.5 325v1M1310.5 324v2M918.5 494v2M945.5 530v1M1094.5 530v2M1071.5 580v2M253.5 297v1M631.5 423v1M331.5 324v1M257.5 290v2M310.5 290v3M68.5 485v4M86.5 443v1M104.5 454v1M1192.5 361v1M1268.5 361v1M915.5 484v3M248.5 306v2M316.5 306v3M356.5 343v1M1323.5 343v1M1372.5 343v1M1374.5 343v1M896.5 448v1M375.5 388v2M731.5 388v1M843.5 388v1M1182.5 347v1M1281.5 347v1M1326.5 347v1M1378.5 347v1M1011.5 569v1M954.5 543v1M1088.5 543v2M961.5 552v1M941.5 523v1M438.5 412v1M818.5 378v1M78.5 459v2M108.5 459v1M904.5 459v1M243.5 316v3M326.5 317v2M952.5 541v1M165.5 474v1M186.5 457v1M902.5 457v1M321.5 313v1M1012.5 570v1M246.5 310v2M317.5 309v2M701.5 421v1M880.5 421v1M733.5 386v1M841.5 386v1M244.5 314v2M324.5 315v1M949.5 537v1M1015.5 573v1M730.5 389v1M844.5 389v1M256.5 292v1M255.5 293v2M311.5 293v2M247.5 308v2M325.5 316v1M252.5 298v2M313.5 298v3M891.5 438v2M251.5 300v2M314.5 301v3M957.5 547v1M250.5 302v2M109.5 460v1M184.5 460v1" fill="none" stroke="#2aa860" stroke-width="1" shape-rendering="crispEdges"/>
<g shape-rendering="crispEdges">
<rect x="5" y="371" width="1" height="46" fill="#000"/>
<rect x="3" y="380" width="5" height="16" fill="#000"/>
<rect x="13" y="367" width="1" height="41" fill="#000"/>
<rect x="11" y="374" width="5" height="22" fill="#000"/>
<rect x="12" y="375" width="3" height="20" fill="#fff"/>
<rect x="21" y="367" width="1" height="25" fill="#000"/>
<rect x="19" y="374" width="5" height="6" fill="#000"/>
<rect x="29" y="332" width="1" height="108" fill="#000"/>
<rect x="27" y="379" width="5" height="12" fill="#000"/>
<rect x="37" y="387" width="1" height="50" fill="#000"/>
<rect x="35" y="389" width="5" height="44" fill="#000"/>
<rect x="45" y="423" width="1" height="21" fill="#000"/>
<rect x="43" y="423" width="5" height="9" fill="#000"/>
<rect x="44" y="424" width="3" height="7" fill="#fff"/>
<rect x="53" y="373" width="1" height="58" fill="#000"/>
<rect x="51" y="378" width="5" height="47" fill="#000"/>
<rect x="52" y="379" width="3" height="45" fill="#fff"/>
<rect x="61" y="370" width="1" height="49" fill="#000"/>
<rect x="59" y="379" width="5" height="33" fill="#000"/>
<rect x="69" y="398" width="1" height="31" fill="#000"/>
<rect x="67" y="404" width="5" height="9" fill="#000"/>
<rect x="68" y="405" width="3" height="7" fill="#fff"/>
<rect x="77" y="347" width="1" height="64" fill="#000"/>
<rect x="75" y="374" width="5" height="29" fill="#000"/>
<rect x="76" y="375" width="3" height="27" fill="#fff"/>
<rect x="85" y="350" width="1" height="42" fill="#000"/>
<rect x="83" y="361" width="5" height="13" fill="#000"/>
<rect x="84" y="362" width="3" height="11" fill="#fff"/>
<rect x="93" y="316" width="1" height="47" fill="#000"/>
<rect x="91" y="326" width="5" height="37" fill="#000"/>
<rect x="92" y="327" width="3" height="35" fill="#fff"/>
<rect x="101" y="304" width="1" height="27" fill="#000"/>
<rect x="99" y="308" width="5" height="18" fill="#000"/>
<rect x="100" y="309" width="3" height="16" fill="#fff"/>
<rect x="109" y="262" width="1" height="48" fill="#000"/>
<rect x="107" y="277" width="5" height="32" fill="#000"/>
<rect x="108" y="278" width="3" height="30" fill="#fff"/>
<rect x="117" y="220" width="1" height="59" fill="#000"/>
<rect x="115" y="234" width="5" height="45" fill="#000"/>
<rect x="116" y="235" width="3" height="43" fill="#fff"/>
<rect x="125" y="209" width="1" height="90" fill="#000"/>
<rect x="123" y="234" width="5" height="4" fill="#000"/>
<rect x="133" y="233" width="1" height="25" fill="#000"/>
<rect x="131" y="238" width="5" height="10" fill="#000"/>
<rect x="141" y="229" width="1" height="16" fill="#000"/>
<rect x="139" y="232" width="5" height="2" fill="#000"/>
<rect x="149" y="211" width="1" height="83" fill="#000"/>
<rect x="147" y="222" width="5" height="12" fill="#000"/>
<rect x="148" y="223" width="3" height="10" fill="#fff"/>
<rect x="157" y="210" width="1" height="44" fill="#000"/>
<rect x="155" y="222" width="5" height="19" fill="#000"/>
<rect x="165" y="215" width="1" height="38" fill="#000"/>
<rect x="163" y="225" width="5" height="16" fill="#000"/>
<rect x="164" y="226" width="3" height="14" fill="#fff"/>
<rect x="173" y="225" width="1" height="49" fill="#000"/>
<rect x="171" y="226" width="5" height="27" fill="#000"/>
<rect x="181" y="235" width="1" height="28" fill="#000"/>
<rect x="179" y="235" width="5" height="19" fill="#000"/>
<rect x="180" y="236" width="3" height="17" fill="#fff"/>
<rect x="189" y="230" width="1" height="20" fill="#000"/>
<rect x="187" y="236" width="5" height="6" fill="#000"/>
<rect x="197" y="229" width="1" height="53" fill="#000"/>
<rect x="195" y="240" width="5" height="28" fill="#000"/>
<rect x="205" y="258" width="1" height="59" fill="#000"/>
<rect x="203" y="268" width="5" height="22" fill="#000"/>
<rect x="213" y="255" width="1" height="58" fill="#000"/>
<rect x="211" y="258" width="5" height="35" fill="#000"/>
<rect x="212" y="259" width="3" height="33" fill="#fff"/>
<rect x="221" y="233" width="1" height="33" fill="#000"/>
<rect x="219" y="243" width="5" height="16" fill="#000"/>
<rect x="220" y="244" width="3" height="14" fill="#fff"/>
<rect x="229" y="231" width="1" height="22" fill="#000"/>
<rect x="227" y="232" width="5" height="12" fill="#000"/>
<rect x="228" y="233" width="3" height="10" fill="#fff"/>
<rect x="237" y="187" width="1" height="46" fill="#000"/>
<rect x="235" y="194" width="5" height="39" fill="#000"/>
<rect x="236" y="195" width="3" height="37" fill="#fff"/>
<rect x="245" y="165" width="1" height="49" fill="#000"/>
<rect x="243" y="196" width="5" height="3" fill="#000"/>
<rect x="253" y="186" width="1" height="55" fill="#000"/>
<rect x="251" y="199" width="5" height="32" fill="#000"/>
<rect x="261" y="196" width="1" height="41" fill="#000"/>
<rect x="259" y="220" width="5" height="11" fill="#000"/>
<rect x="260" y="221" width="3" height="9" fill="#fff"/>
<rect x="269" y="220" width="1" height="53" fill="#000"/>
<rect x="267" y="221" width="5" height="29" fill="#000"/>
<rect x="277" y="241" width="1" height="41" fill="#000"/>
<rect x="275" y="246" width="5" height="5" fill="#000"/>
<rect x="276" y="247" width="3" height="3" fill="#fff"/>
<rect x="285" y="218" width="1" height="39" fill="#000"/>
<rect x="283" y="222" width="5" height="24" fill="#000"/>
<rect x="284" y="223" width="3" height="22" fill="#fff"/>
<rect x="293" y="219" width="1" height="42" fill="#000"/>
<rect x="291" y="225" width="5" height="31" fill="#000"/>
<rect x="301" y="255" width="1" height="59" fill="#000"/>
<rect x="299" y="255" width="5" height="16" fill="#000"/>
<rect x="309" y="261" width="1" height="41" fill="#000"/>
<rect x="307" y="263" width="5" height="11" fill="#000"/>
<rect x="308" y="264" width="3" height="9" fill="#fff"/>
<rect x="317" y="256" width="1" height="106" fill="#000"/>
<rect x="315" y="264" width="5" height="78" fill="#000"/>
<rect x="325" y="291" width="1" height="66" fill="#000"/>
<rect x="323" y="292" width="5" height="51" fill="#000"/>
<rect x="324" y="293" width="3" height="49" fill="#fff"/>
<rect x="333" y="286" width="1" height="45" fill="#000"/>
<rect x="331" y="290" width="5" height="34" fill="#000"/>
<rect x="341" y="256" width="1" height="71" fill="#000"/>
<rect x="339" y="283" width="5" height="42" fill="#000"/>
<rect x="340" y="284" width="3" height="40" fill="#fff"/>
<rect x="349" y="280" width="1" height="45" fill="#000"/>
<rect x="347" y="282" width="5" height="34" fill="#000"/>
<rect x="357" y="297" width="1" height="47" fill="#000"/>
<rect x="355" y="315" width="5" height="2" fill="#000"/>
<rect x="365" y="311" width="1" height="78" fill="#000"/>
<rect x="363" y="317" width="5" height="61" fill="#000"/>
<rect x="373" y="362" width="1" height="44" fill="#000"/>
<rect x="371" y="378" width="5" height="24" fill="#000"/>
<rect x="381" y="352" width="1" height="33" fill="#000"/>
<rect x="379" y="358" width="5" height="21" fill="#000"/>
<rect x="380" y="359" width="3" height="19" fill="#fff"/>
<rect x="389" y="327" width="1" height="57" fill="#000"/>
<rect x="387" y="356" width="5" height="8" fill="#000"/>
<rect x="397" y="343" width="1" height="44" fill="#000"/>
<rect x="395" y="363" width="5" height="2" fill="#000"/>
<rect x="405" y="345" width="1" height="32" fill="#000"/>
<rect x="403" y="351" width="5" height="13" fill="#000"/>
<rect x="404" y="352" width="3" height="11" fill="#fff"/>
<rect x="413" y="309" width="1" height="63" fill="#000"/>
<rect x="411" y="350" width="5" height="4" fill="#000"/>
<rect x="412" y="351" width="3" height="2" fill="#fff"/>
<rect x="421" y="342" width="1" height="25" fill="#000"/>
<rect x="419" y="350" width="5" height="2" fill="#000"/>
<rect x="429" y="334" width="1" height="20" fill="#000"/>
<rect x="427" y="340" width="5" height="11" fill="#000"/>
<rect x="428" y="341" width="3" height="9" fill="#fff"/>
<rect x="437" y="304" width="1" height="44" fill="#000"/>
<rect x="435" y="312" width="5" height="29" fill="#000"/>
<rect x="436" y="313" width="3" height="27" fill="#fff"/>
<rect x="445" y="280" width="1" height="40" fill="#000"/>
<rect x="443" y="286" width="5" height="27" fill="#000"/>
<rect x="444" y="287" width="3" height="25" fill="#fff"/>
<rect x="453" y="286" width="1" height="27" fill="#000"/>
<rect x="451" y="286" width="5" height="19" fill="#000"/>
<rect x="461" y="237" width="1" height="71" fill="#000"/>
<rect x="459" y="257" width="5" height="49" fill="#000"/>
<rect x="460" y="258" width="3" height="47" fill="#fff"/>
<rect x="469" y="251" width="1" height="29" fill="#000"/>
<rect x="467" y="258" width="5" height="16" fill="#000"/>
<rect x="477" y="255" width="1" height="20" fill="#000"/>
<rect x="475" y="260" width="5" height="13" fill="#000"/>
<rect x="476" y="261" width="3" height="11" fill="#fff"/>
<rect x="485" y="254" width="1" height="50" fill="#000"/>
<rect x="483" y="263" width="5" height="34" fill="#000"/>
<rect x="493" y="277" width="1" height="82" fill="#000"/>
<rect x="491" y="296" width="5" height="48" fill="#000"/>
<rect x="501" y="331" width="1" height="52" fill="#000"/>
<rect x="499" y="343" width="5" height="16" fill="#000"/>
<rect x="509" y="325" width="1" height="86" fill="#000"/>
<rect x="507" y="341" width="5" height="19" fill="#000"/>
<rect x="508" y="342" width="3" height="17" fill="#fff"/>
<rect x="517" y="326" width="1" height="37" fill="#000"/>
<rect x="515" y="327" width="5" height="15" fill="#000"/>
<rect x="516" y="328" width="3" height="13" fill="#fff"/>
<rect x="525" y="319" width="1" height="27" fill="#000"/>
<rect x="523" y="327" width="5" height="9" fill="#000"/>
<rect x="533" y="320" width="1" height="60" fill="#000"/>
<rect x="531" y="337" width="5" height="28" fill="#000"/>
<rect x="541" y="342" width="1" height="47" fill="#000"/>
<rect x="539" y="365" width="5" height="5" fill="#000"/>
<rect x="549" y="346" width="1" height="41" fill="#000"/>
<rect x="547" y="368" width="5" height="3" fill="#000"/>
<rect x="548" y="369" width="3" height="1" fill="#fff"/>
<rect x="557" y="347" width="1" height="87" fill="#000"/>
<rect x="555" y="366" width="5" height="44" fill="#000"/>
<rect x="565" y="374" width="1" height="41" fill="#000"/>
<rect x="563" y="376" width="5" height="35" fill="#000"/>
<rect x="564" y="377" width="3" height="33" fill="#fff"/>
<rect x="573" y="366" width="1" height="16" fill="#000"/>
<rect x="571" y="366" width="5" height="11" fill="#000"/>
<rect x="572" y="367" width="3" height="9" fill="#fff"/>
<rect x="581" y="349" width="1" height="61" fill="#000"/>
<rect x="579" y="366" width="5" height="3" fill="#000"/>
<rect x="589" y="353" width="1" height="36" fill="#000"/>
<rect x="587" y="368" width="5" height="2" fill="#000"/>
<rect x="597" y="316" width="1" height="60" fill="#000"/>
<rect x="595" y="319" width="5" height="50" fill="#000"/>
<rect x="596" y="320" width="3" height="48" fill="#fff"/>
<rect x="605" y="278" width="1" height="70" fill="#000"/>
<rect x="603" y="286" width="5" height="34" fill="#000"/>
<rect x="604" y="287" width="3" height="32" fill="#fff"/>
<rect x="613" y="277" width="1" height="40" fill="#000"/>
<rect x="611" y="286" width="5" height="24" fill="#000"/>
<rect x="621" y="247" width="1" height="30" fill="#000"/>
<rect x="619" y="250" width="5" height="18" fill="#000"/>
<rect x="620" y="251" width="3" height="16" fill="#fff"/>
<rect x="629" y="249" width="1" height="43" fill="#000"/>
<rect x="627" y="253" width="5" height="4" fill="#000"/>
<rect x="637" y="215" width="1" height="45" fill="#000"/>
<rect x="635" y="217" width="5" height="42" fill="#000"/>
<rect x="636" y="218" width="3" height="40" fill="#fff"/>
<rect x="645" y="212" width="1" height="56" fill="#000"/>
<rect x="643" y="216" width="5" height="35" fill="#000"/>
<rect x="653" y="241" width="1" height="36" fill="#000"/>
<rect x="651" y="250" width="5" height="8" fill="#000"/>
<rect x="661" y="256" width="1" height="51" fill="#000"/>
<rect x="659" y="258" width="5" height="34" fill="#000"/>
<rect x="669" y="270" width="1" height="34" fill="#000"/>
<rect x="667" y="278" width="5" height="15" fill="#000"/>
<rect x="668" y="279" width="3" height="13" fill="#fff"/>
<rect x="677" y="270" width="1" height="50" fill="#000"/>
<rect x="675" y="279" width="5" height="25" fill="#000"/>
<rect x="685" y="301" width="1" height="74" fill="#000"/>
<rect x="683" y="304" width="5" height="56" fill="#000"/>
<rect x="693" y="345" width="1" height="52" fill="#000"/>
<rect x="691" y="351" width="5" height="9" fill="#000"/>
<rect x="692" y="352" width="3" height="7" fill="#fff"/>
<rect x="701" y="320" width="1" height="41" fill="#000"/>
<rect x="699" y="333" width="5" height="20" fill="#000"/>
<rect x="700" y="334" width="3" height="18" fill="#fff"/>
<rect x="709" y="298" width="1" height="43" fill="#000"/>
<rect x="707" y="304" width="5" height="30" fill="#000"/>
<rect x="708" y="305" width="3" height="28" fill="#fff"/>
<rect x="717" y="293" width="1" height="16" fill="#000"/>
<rect x="715" y="301" width="5" height="4" fill="#000"/>
<rect x="716" y="302" width="3" height="2" fill="#fff"/>
<rect x="725" y="301" width="1" height="43" fill="#000"/>
<rect x="723" y="301" width="5" height="31" fill="#000"/>
<rect x="733" y="305" width="1" height="31" fill="#000"/>
<rect x="731" y="311" width="5" height="21" fill="#000"/>
<rect x="732" y="312" width="3" height="19" fill="#fff"/>
<rect x="741" y="305" width="1" height="37" fill="#000"/>
<rect x="739" y="311" width="5" height="27" fill="#000"/>
<rect x="749" y="267" width="1" height="82" fill="#000"/>
<rect x="747" y="284" width="5" height="55" fill="#000"/>
<rect x="748" y="285" width="3" height="53" fill="#fff"/>
<rect x="757" y="254" width="1" height="83" fill="#000"/>
<rect x="755" y="283" width="5" height="13" fill="#000"/>
<rect x="765" y="279" width="1" height="25" fill="#000"/>
<rect x="763" y="282" width="5" height="15" fill="#000"/>
<rect x="764" y="283" width="3" height="13" fill="#fff"/>
<rect x="773" y="249" width="1" height="41" fill="#000"/>
<rect x="771" y="256" width="5" height="31" fill="#000"/>
<rect x="772" y="257" width="3" height="29" fill="#fff"/>
<rect x="781" y="243" width="1" height="31" fill="#000"/>
<rect x="779" y="255" width="5" height="2" fill="#000"/>
<rect x="789" y="246" width="1" height="90" fill="#000"/>
<rect x="787" y="255" width="5" height="75" fill="#000"/>
<rect x="797" y="290" width="1" height="98" fill="#000"/>
<rect x="795" y="330" width="5" height="33" fill="#000"/>
<rect x="805" y="335" width="1" height="33" fill="#000"/>
<rect x="803" y="350" width="5" height="13" fill="#000"/>
<rect x="804" y="351" width="3" height="11" fill="#fff"/>
<rect x="813" y="321" width="1" height="32" fill="#000"/>
<rect x="811" y="326" width="5" height="26" fill="#000"/>
<rect x="812" y="327" width="3" height="24" fill="#fff"/>
<rect x="821" y="325" width="1" height="54" fill="#000"/>
<rect x="819" y="326" width="5" height="25" fill="#000"/>
<rect x="829" y="334" width="1" height="37" fill="#000"/>
<rect x="827" y="339" width="5" height="14" fill="#000"/>
<rect x="828" y="340" width="3" height="12" fill="#fff"/>
<rect x="837" y="310" width="1" height="39" fill="#000"/>
<rect x="835" y="326" width="5" height="14" fill="#000"/>
<rect x="836" y="327" width="3" height="12" fill="#fff"/>
<rect x="845" y="289" width="1" height="116" fill="#000"/>
<rect x="843" y="326" width="5" height="70" fill="#000"/>
<rect x="853" y="385" width="1" height="42" fill="#000"/>
<rect x="851" y="396" width="5" height="12" fill="#000"/>
<rect x="861" y="383" width="1" height="21" fill="#000"/>
<rect x="859" y="392" width="5" height="12" fill="#000"/>
<rect x="860" y="393" width="3" height="10" fill="#fff"/>
<rect x="869" y="357" width="1" height="45" fill="#000"/>
<rect x="867" y="360" width="5" height="35" fill="#000"/>
<rect x="868" y="361" width="3" height="33" fill="#fff"/>
<rect x="877" y="359" width="1" height="26" fill="#000"/>
<rect x="875" y="360" width="5" height="16" fill="#000"/>
<rect x="885" y="374" width="1" height="42" fill="#000"/>
<rect x="883" y="375" width="5" height="17" fill="#000"/>
<rect x="893" y="390" width="1" height="78" fill="#000"/>
<rect x="891" y="391" width="5" height="55" fill="#000"/>
<rect x="901" y="430" width="1" height="27" fill="#000"/>
<rect x="899" y="438" width="5" height="9" fill="#000"/>
<rect x="900" y="439" width="3" height="7" fill="#fff"/>
<rect x="909" y="426" width="1" height="20" fill="#000"/>
<rect x="907" y="433" width="5" height="7" fill="#000"/>
<rect x="908" y="434" width="3" height="5" fill="#fff"/>
<rect x="917" y="432" width="1" height="87" fill="#000"/>
<rect x="915" y="434" width="5" height="77" fill="#000"/>
<rect x="925" y="495" width="1" height="39" fill="#000"/>
<rect x="923" y="508" width="5" height="3" fill="#000"/>
<rect x="924" y="509" width="3" height="1" fill="#fff"/>
<rect x="933" y="480" width="1" height="39" fill="#000"/>
<rect x="931" y="488" width="5" height="21" fill="#000"/>
<rect x="932" y="489" width="3" height="19" fill="#fff"/>
<rect x="941" y="460" width="1" height="71" fill="#000"/>
<rect x="939" y="487" width="5" height="10" fill="#000"/>
<rect x="949" y="480" width="1" height="38" fill="#000"/>
<rect x="947" y="495" width="5" height="18" fill="#000"/>
<rect x="957" y="489" width="1" height="30" fill="#000"/>
<rect x="955" y="497" width="5" height="16" fill="#000"/>
<rect x="956" y="498" width="3" height="14" fill="#fff"/>
<rect x="965" y="490" width="1" height="35" fill="#000"/>
<rect x="963" y="497" width="5" height="14" fill="#000"/>
<rect x="973" y="455" width="1" height="67" fill="#000"/>
<rect x="971" y="462" width="5" height="49" fill="#000"/>
<rect x="972" y="463" width="3" height="47" fill="#fff"/>
<rect x="981" y="434" width="1" height="37" fill="#000"/>
<rect x="979" y="439" width="5" height="25" fill="#000"/>
<rect x="980" y="440" width="3" height="23" fill="#fff"/>
<rect x="989" y="306" width="1" height="141" fill="#000"/>
<rect x="987" y="314" width="5" height="125" fill="#000"/>
<rect x="988" y="315" width="3" height="123" fill="#fff"/>
<rect x="997" y="293" width="1" height="54" fill="#000"/>
<rect x="995" y="313" width="5" height="17" fill="#000"/>
<rect x="1005" y="304" width="1" height="36" fill="#000"/>
<rect x="1003" y="312" width="5" height="19" fill="#000"/>
<rect x="1004" y="313" width="3" height="17" fill="#fff"/>
<rect x="1013" y="266" width="1" height="49" fill="#000"/>
<rect x="1011" y="295" width="5" height="19" fill="#000"/>
<rect x="1012" y="296" width="3" height="17" fill="#fff"/>
<rect x="1021" y="278" width="1" height="42" fill="#000"/>
<rect x="1019" y="280" width="5" height="15" fill="#000"/>
<rect x="1020" y="281" width="3" height="13" fill="#fff"/>
<rect x="1029" y="270" width="1" height="39" fill="#000"/>
<rect x="1027" y="280" width="5" height="23" fill="#000"/>
<rect x="1037" y="294" width="1" height="39" fill="#000"/>
<rect x="1035" y="302" width="5" height="3" fill="#000"/>
<rect x="1036" y="303" width="3" height="1" fill="#fff"/>
<rect x="1045" y="277" width="1" height="31" fill="#000"/>
<rect x="1043" y="277" width="5" height="26" fill="#000"/>
<rect x="1044" y="278" width="3" height="24" fill="#fff"/>
<rect x="1053" y="275" width="1" height="16" fill="#000"/>
<rect x="1051" y="277" width="5" height="11" fill="#000"/>
<rect x="1061" y="239" width="1" height="51" fill="#000"/>
<rect x="1059" y="247" width="5" height="42" fill="#000"/>
<rect x="1060" y="248" width="3" height="40" fill="#fff"/>
<rect x="1069" y="242" width="1" height="50" fill="#000"/>
<rect x="1067" y="247" width="5" height="40" fill="#000"/>
<rect x="1077" y="271" width="1" height="35" fill="#000"/>
<rect x="1075" y="284" width="5" height="2" fill="#000"/>
<rect x="1085" y="283" width="1" height="58" fill="#000"/>
<rect x="1083" y="285" width="5" height="22" fill="#000"/>
<rect x="1093" y="301" width="1" height="29" fill="#000"/>
<rect x="1091" y="303" width="5" height="4" fill="#000"/>
<rect x="1092" y="304" width="3" height="2" fill="#fff"/>
<rect x="1101" y="286" width="1" height="25" fill="#000"/>
<rect x="1099" y="299" width="5" height="5" fill="#000"/>
<rect x="1100" y="300" width="3" height="3" fill="#fff"/>
<rect x="1109" y="293" width="1" height="49" fill="#000"/>
<rect x="1107" y="296" width="5" height="27" fill="#000"/>
<rect x="1117" y="296" width="1" height="37" fill="#000"/>
<rect x="1115" y="304" width="5" height="20" fill="#000"/>
<rect x="1116" y="305" width="3" height="18" fill="#fff"/>
<rect x="1125" y="292" width="1" height="41" fill="#000"/>
<rect x="1123" y="305" width="5" height="23" fill="#000"/>
<rect x="1133" y="285" width="1" height="46" fill="#000"/>
<rect x="1131" y="302" width="5" height="27" fill="#000"/>
<rect x="1132" y="303" width="3" height="25" fill="#fff"/>
<rect x="1141" y="278" width="1" height="33" fill="#000"/>
<rect x="1139" y="280" width="5" height="23" fill="#000"/>
<rect x="1140" y="281" width="3" height="21" fill="#fff"/>
<rect x="1149" y="256" width="1" height="26" fill="#000"/>
<rect x="1147" y="270" width="5" height="11" fill="#000"/>
<rect x="1148" y="271" width="3" height="9" fill="#fff"/>
<rect x="1157" y="237" width="1" height="39" fill="#000"/>
<rect x="1155" y="261" width="5" height="12" fill="#000"/>
<rect x="1156" y="262" width="3" height="10" fill="#fff"/>
<rect x="1165" y="244" width="1" height="33" fill="#000"/>
<rect x="1163" y="246" width="5" height="16" fill="#000"/>
<rect x="1164" y="247" width="3" height="14" fill="#fff"/>
<rect x="1173" y="240" width="1" height="33" fill="#000"/>
<rect x="1171" y="245" width="5" height="8" fill="#000"/>
<rect x="1181" y="176" width="1" height="77" fill="#000"/>
<rect x="1179" y="187" width="5" height="66" fill="#000"/>
<rect x="1180" y="188" width="3" height="64" fill="#fff"/>
<rect x="1189" y="165" width="1" height="39" fill="#000"/>
<rect x="1187" y="166" width="5" height="22" fill="#000"/>
<rect x="1188" y="167" width="3" height="20" fill="#fff"/>
<rect x="1197" y="114" width="1" height="66" fill="#000"/>
<rect x="1195" y="126" width="5" height="41" fill="#000"/>
<rect x="1196" y="127" width="3" height="39" fill="#fff"/>
<rect x="1205" y="120" width="1" height="45" fill="#000"/>
<rect x="1203" y="127" width="5" height="3" fill="#000"/>
<rect x="1213" y="120" width="1" height="24" fill="#000"/>
<rect x="1211" y="129" width="5" height="2" fill="#000"/>
<rect x="1221" y="119" width="1" height="45" fill="#000"/>
<rect x="1219" y="129" width="5" height="28" fill="#000"/>
<rect x="1229" y="153" width="1" height="62" fill="#000"/>
<rect x="1227" y="157" width="5" height="41" fill="#000"/>
<rect x="1237" y="192" width="1" height="116" fill="#000"/>
<rect x="1235" y="197" width="5" height="75" fill="#000"/>
<rect x="1245" y="252" width="1" height="57" fill="#000"/>
<rect x="1243" y="259" width="5" height="13" fill="#000"/>
<rect x="1244" y="260" width="3" height="11" fill="#fff"/>
<rect x="1253" y="250" width="1" height="70" fill="#000"/>
<rect x="1251" y="258" width="5" height="19" fill="#000"/>
<rect x="1261" y="244" width="1" height="56" fill="#000"/>
<rect x="1259" y="277" width="5" height="15" fill="#000"/>
<rect x="1269" y="253" width="1" height="42" fill="#000"/>
<rect x="1267" y="261" width="5" height="33" fill="#000"/>
<rect x="1268" y="262" width="3" height="31" fill="#fff"/>
<rect x="1277" y="205" width="1" height="67" fill="#000"/>
<rect x="1275" y="242" width="5" height="20" fill="#000"/>
<rect x="1276" y="243" width="3" height="18" fill="#fff"/>
<rect x="1285" y="236" width="1" height="30" fill="#000"/>
<rect x="1283" y="242" width="5" height="5" fill="#000"/>
<rect x="1293" y="240" width="1" height="15" fill="#000"/>
<rect x="1291" y="242" width="5" height="6" fill="#000"/>
<rect x="1292" y="243" width="3" height="4" fill="#fff"/>
<rect x="1301" y="220" width="1" height="31" fill="#000"/>
<rect x="1299" y="226" width="5" height="17" fill="#000"/>
<rect x="1300" y="227" width="3" height="15" fill="#fff"/>
<rect x="1309" y="225" width="1" height="17" fill="#000"/>
<rect x="1307" y="227" width="5" height="2" fill="#000"/>
<rect x="1317" y="194" width="1" height="137" fill="#000"/>
<rect x="1315" y="228" width="5" height="96" fill="#000"/>
<rect x="1325" y="283" width="1" height="90" fill="#000"/>
<rect x="1323" y="320" width="5" height="5" fill="#000"/>
<rect x="1324" y="321" width="3" height="3" fill="#fff"/>
<rect x="1333" y="283" width="1" height="65" fill="#000"/>
<rect x="1331" y="307" width="5" height="14" fill="#000"/>
<rect x="1332" y="308" width="3" height="12" fill="#fff"/>
<rect x="1341" y="268" width="1" height="25" fill="#000"/>
<rect x="1339" y="268" width="5" height="22" fill="#000"/>
<rect x="1340" y="269" width="3" height="20" fill="#fff"/>
<rect x="1349" y="255" width="1" height="38" fill="#000"/>
<rect x="1347" y="271" width="5" height="4" fill="#000"/>
<rect x="1357" y="245" width="1" height="30" fill="#000"/>
<rect x="1355" y="253" width="5" height="22" fill="#000"/>
<rect x="1356" y="254" width="3" height="20" fill="#fff"/>
<rect x="1365" y="247" width="1" height="37" fill="#000"/>
<rect x="1363" y="253" width="5" height="21" fill="#000"/>
<rect x="1373" y="155" width="1" height="129" fill="#000"/>
<rect x="1371" y="158" width="5" height="117" fill="#000"/>
<rect x="1372" y="159" width="3" height="115" fill="#fff"/>
<rect x="1381" y="118" width="1" height="65" fill="#000"/>
<rect x="1379" y="118" width="5" height="41" fill="#000"/>
<rect x="1380" y="119" width="3" height="39" fill="#fff"/>
<rect x="1389" y="116" width="1" height="33" fill="#000"/>
<rect x="1387" y="118" width="5" height="30" fill="#000"/>
<rect x="1397" y="83" width="1" height="76" fill="#000"/>
<rect x="1395" y="94" width="5" height="54" fill="#000"/>
<rect x="1396" y="95" width="3" height="52" fill="#fff"/>
<rect x="1405" y="80" width="1" height="124" fill="#000"/>
<rect x="1403" y="94" width="5" height="71" fill="#000"/>
<rect x="1413" y="107" width="1" height="92" fill="#000"/>
<rect x="1411" y="116" width="5" height="49" fill="#000"/>
<rect x="1412" y="117" width="3" height="47" fill="#fff"/>
<rect x="1421" y="91" width="1" height="52" fill="#000"/>
<rect x="1419" y="114" width="5" height="3" fill="#000"/>
<rect x="1420" y="115" width="3" height="1" fill="#fff"/>
<rect x="1429" y="93" width="1" height="36" fill="#000"/>
<rect x="1427" y="94" width="5" height="21" fill="#000"/>
<rect x="1428" y="95" width="3" height="19" fill="#fff"/>
<rect x="1437" y="74" width="1" height="21" fill="#000"/>
<rect x="1435" y="83" width="5" height="12" fill="#000"/>
<rect x="1436" y="84" width="3" height="10" fill="#fff"/>
</g>
<rect x="1392" y="100" width="111" height="7" fill="#00ff00" shape-rendering="crispEdges"/>
<rect x="1126.5" y="104.5" width="61" height="18" fill="#fff" stroke="#ff0000" stroke-width="1" shape-rendering="crispEdges"/>
<text x="1128" y="119.5" font-size="17" fill="#ff0000" stroke="#ff0000" stroke-width="0" textLength="58.3" lengthAdjust="spacingAndGlyphs">114.967</text>
<path d="M1188 113.5H1197" stroke="#f00" fill="none" shape-rendering="crispEdges"/>
<rect x="1264.5" y="89.5" width="73" height="24" fill="#fff" stroke="#ff0000" stroke-width="1" shape-rendering="crispEdges"/>
<text x="1266.3" y="109.8" font-size="22.2" fill="#ff0000" stroke="#ff0000" stroke-width="0.35" textLength="70.5" lengthAdjust="spacingAndGlyphs">115.035</text>
<path d="M1254 101.5H1261" stroke="#f00" fill="none" shape-rendering="crispEdges"/><rect x="1261.5" y="99.5" width="2" height="3" fill="#fff" stroke="#f00" shape-rendering="crispEdges"/>
<rect x="1366.5" y="65.5" width="61" height="18" fill="#fff" stroke="#ff0000" stroke-width="1" shape-rendering="crispEdges"/>
<text x="1368" y="80.5" font-size="17" fill="#ff0000" stroke="#ff0000" stroke-width="0" textLength="58.3" lengthAdjust="spacingAndGlyphs">115.176</text>
<path d="M1431 74.5H1437" stroke="#f00" fill="none" shape-rendering="crispEdges"/><rect x="1428.5" y="72.5" width="2" height="3" fill="#fff" stroke="#f00" shape-rendering="crispEdges"/>
<rect x="1246.5" y="185.5" width="61" height="18" fill="#fff" stroke="#ff0000" stroke-width="1" shape-rendering="crispEdges"/>
<text x="1248" y="200.5" font-size="17" fill="#ff0000" stroke="#ff0000" stroke-width="0" textLength="58.3" lengthAdjust="spacingAndGlyphs">114.533</text>
<path d="M1308 194.5H1317.5" stroke="#f00" fill="none" shape-rendering="crispEdges"/>
<rect x="1254.5" y="363.5" width="62" height="19" fill="#fff" stroke="#ff0000" stroke-width="1" shape-rendering="crispEdges"/>
<text x="1256" y="378.5" font-size="17" fill="#ff0000" stroke="#ff0000" stroke-width="0" textLength="58.3" lengthAdjust="spacingAndGlyphs">113.577</text>
<path d="M1317 372.5H1325.5" stroke="#f00" fill="none" shape-rendering="crispEdges"/>
<line x1="1332.5" y1="353" x2="1448.9" y2="69.8" stroke="#ff0000" stroke-width="3.6"/>
<polygon points="1450,67 1451.4,78.9 1449.7,79.9 1447.1,74.0 1441.1,76.3 1440.6,74.5" fill="#ff0000"/>
<polygon points="1442,21 1452,21 1447,26" fill="#b0b0b0"/>
</g>
<text x="4.3" y="31.6" font-size="10.3" textLength="53.8" lengthAdjust="spacingAndGlyphs">USDJPY-,H4</text>
<text x="64.6" y="31.6" font-size="10.3" fill="#000" textLength="32.5" lengthAdjust="spacingAndGlyphs">115.068</text>
<text x="100.6" y="31.6" font-size="10.3" fill="#000" textLength="32.5" lengthAdjust="spacingAndGlyphs">115.180</text>
<text x="136.7" y="31.6" font-size="10.3" fill="#000" textLength="32.5" lengthAdjust="spacingAndGlyphs">115.031</text>
<text x="172.4" y="31.6" font-size="10.3" fill="#000" textLength="32.5" lengthAdjust="spacingAndGlyphs">115.131</text>
<g shape-rendering="crispEdges">
<rect x="0" y="40" width="44" height="25" fill="url(#gS)"/>
<rect x="159" y="40" width="52" height="25" fill="url(#gS)"/>
<rect x="0" y="64" width="101" height="33" fill="url(#gP)"/>
<rect x="103" y="64" width="108" height="33" fill="url(#gP)"/>
<rect x="101" y="64" width="2" height="33" fill="#fff"/>
<rect x="0" y="40" width="44" height="1" fill="#c81818"/><rect x="43" y="40" width="1" height="24" fill="#c81818"/>
<rect x="159" y="40" width="52" height="1" fill="#c81818"/><rect x="159" y="40" width="1" height="24" fill="#c81818"/><rect x="210" y="40" width="1" height="57" fill="#c01010"/>
<rect x="0" y="63" width="40" height="1" fill="#9c0808"/><rect x="0" y="64" width="40" height="1" fill="#ec5858"/>
<rect x="163" y="63" width="44" height="1" fill="#9c0808"/><rect x="163" y="64" width="44" height="1" fill="#ec5858"/>
<rect x="44" y="40" width="115" height="24" fill="#fff"/>
<rect x="46.5" y="40.5" width="110" height="21" fill="#fff" stroke="#a4aab6"/>
<rect x="47" y="41" width="20" height="20" fill="url(#gB)"/><rect x="67" y="41" width="1" height="20" fill="#a4aab6"/>
<rect x="136" y="41" width="20" height="20" fill="url(#gB)"/><rect x="135" y="41" width="1" height="20" fill="#a4aab6"/>
<rect x="48" y="42" width="18" height="18" fill="none" stroke="#f6f6f6"/><rect x="137" y="42" width="18" height="18" fill="none" stroke="#f6f6f6"/>
</g>
<polygon points="54,49 59.4,49 56.7,52.2" fill="#4a5cc0"/><polygon points="143,52.4 148.4,52.4 145.7,49" fill="#4a5cc0"/>
<text x="131.9" y="55" font-size="13" text-anchor="end" fill="#000" textLength="24" lengthAdjust="spacingAndGlyphs">1.00</text>
<text x="4.2" y="56" font-size="12.3" fill="#fff" textLength="26.2" lengthAdjust="spacingAndGlyphs">SELL</text>
<text x="172.2" y="56" font-size="12.3" fill="#fff" textLength="23.8" lengthAdjust="spacingAndGlyphs">BUY</text>
<text x="15.2" y="92" font-size="12.5" font-weight="bold" fill="#fff" textLength="20.6" lengthAdjust="spacingAndGlyphs">115</text>
<text x="39" y="92" font-size="35" fill="#fff" textLength="35.5" lengthAdjust="spacingAndGlyphs">13</text>
<text x="78.7" y="75.8" font-size="12" font-weight="bold" fill="#fff">1</text>
<text x="125.2" y="92" font-size="12.5" font-weight="bold" fill="#fff" textLength="20.6" lengthAdjust="spacingAndGlyphs">115</text>
<text x="150.2" y="92" font-size="35" fill="#fff" textLength="35.5" lengthAdjust="spacingAndGlyphs">15</text>
<text x="189.8" y="75.8" font-size="12" font-weight="bold" fill="#fff">2</text>
<g shape-rendering="crispEdges">
<rect x="5" y="590" width="1" height="99" fill="#c0c0c0"/>
<rect x="13" y="592" width="1" height="97" fill="#c0c0c0"/>
<rect x="21" y="596" width="1" height="93" fill="#c0c0c0"/>
<rect x="29" y="600" width="1" height="89" fill="#c0c0c0"/>
<rect x="37" y="608" width="1" height="81" fill="#c0c0c0"/>
<rect x="45" y="615" width="1" height="74" fill="#c0c0c0"/>
<rect x="53" y="617" width="1" height="72" fill="#c0c0c0"/>
<rect x="61" y="622" width="1" height="67" fill="#c0c0c0"/>
<rect x="69" y="626" width="1" height="63" fill="#c0c0c0"/>
<rect x="77" y="628" width="1" height="61" fill="#c0c0c0"/>
<rect x="85" y="629" width="1" height="60" fill="#c0c0c0"/>
<rect x="93" y="628" width="1" height="61" fill="#c0c0c0"/>
<rect x="101" y="626" width="1" height="63" fill="#c0c0c0"/>
<rect x="109" y="622" width="1" height="67" fill="#c0c0c0"/>
<rect x="117" y="617" width="1" height="72" fill="#c0c0c0"/>
<rect x="125" y="614" width="1" height="75" fill="#c0c0c0"/>
<rect x="133" y="613" width="1" height="76" fill="#c0c0c0"/>
<rect x="141" y="612" width="1" height="77" fill="#c0c0c0"/>
<rect x="149" y="612" width="1" height="77" fill="#c0c0c0"/>
<rect x="157" y="613" width="1" height="76" fill="#c0c0c0"/>
<rect x="165" y="615" width="1" height="74" fill="#c0c0c0"/>
<rect x="173" y="618" width="1" height="71" fill="#c0c0c0"/>
<rect x="181" y="621" width="1" height="68" fill="#c0c0c0"/>
<rect x="189" y="624" width="1" height="65" fill="#c0c0c0"/>
<rect x="197" y="629" width="1" height="60" fill="#c0c0c0"/>
<rect x="205" y="636" width="1" height="53" fill="#c0c0c0"/>
<rect x="213" y="639" width="1" height="50" fill="#c0c0c0"/>
<rect x="221" y="641" width="1" height="48" fill="#c0c0c0"/>
<rect x="229" y="642" width="1" height="47" fill="#c0c0c0"/>
<rect x="237" y="641" width="1" height="48" fill="#c0c0c0"/>
<rect x="245" y="640" width="1" height="49" fill="#c0c0c0"/>
<rect x="253" y="643" width="1" height="46" fill="#c0c0c0"/>
<rect x="261" y="645" width="1" height="44" fill="#c0c0c0"/>
<rect x="269" y="650" width="1" height="39" fill="#c0c0c0"/>
<rect x="277" y="653" width="1" height="36" fill="#c0c0c0"/>
<rect x="285" y="654" width="1" height="35" fill="#c0c0c0"/>
<rect x="293" y="659" width="1" height="30" fill="#c0c0c0"/>
<rect x="301" y="663" width="1" height="26" fill="#c0c0c0"/>
<rect x="309" y="667" width="1" height="22" fill="#c0c0c0"/>
<rect x="317" y="676" width="1" height="13" fill="#c0c0c0"/>
<rect x="325" y="680" width="1" height="9" fill="#c0c0c0"/>
<rect x="333" y="685" width="1" height="4" fill="#c0c0c0"/>
<rect x="341" y="686" width="1" height="3" fill="#c0c0c0"/>
<rect x="357" y="688" width="1" height="4" fill="#c0c0c0"/>
<rect x="365" y="688" width="1" height="11" fill="#c0c0c0"/>
<rect x="373" y="688" width="1" height="19" fill="#c0c0c0"/>
<rect x="381" y="688" width="1" height="21" fill="#c0c0c0"/>
<rect x="389" y="688" width="1" height="22" fill="#c0c0c0"/>
<rect x="397" y="688" width="1" height="24" fill="#c0c0c0"/>
<rect x="405" y="688" width="1" height="23" fill="#c0c0c0"/>
<rect x="413" y="688" width="1" height="23" fill="#c0c0c0"/>
<rect x="421" y="688" width="1" height="22" fill="#c0c0c0"/>
<rect x="429" y="688" width="1" height="19" fill="#c0c0c0"/>
<rect x="437" y="688" width="1" height="15" fill="#c0c0c0"/>
<rect x="445" y="688" width="1" height="11" fill="#c0c0c0"/>
<rect x="453" y="688" width="1" height="9" fill="#c0c0c0"/>
<rect x="461" y="687" width="1" height="2" fill="#c0c0c0"/>
<rect x="469" y="687" width="1" height="2" fill="#c0c0c0"/>
<rect x="477" y="683" width="1" height="6" fill="#c0c0c0"/>
<rect x="485" y="683" width="1" height="6" fill="#c0c0c0"/>
<rect x="493" y="687" width="1" height="2" fill="#c0c0c0"/>
<rect x="501" y="688" width="1" height="4" fill="#c0c0c0"/>
<rect x="509" y="688" width="1" height="5" fill="#c0c0c0"/>
<rect x="517" y="688" width="1" height="5" fill="#c0c0c0"/>
<rect x="525" y="688" width="1" height="7" fill="#c0c0c0"/>
<rect x="533" y="688" width="1" height="10" fill="#c0c0c0"/>
<rect x="541" y="688" width="1" height="13" fill="#c0c0c0"/>
<rect x="549" y="688" width="1" height="13" fill="#c0c0c0"/>
<rect x="557" y="688" width="1" height="19" fill="#c0c0c0"/>
<rect x="565" y="688" width="1" height="20" fill="#c0c0c0"/>
<rect x="573" y="688" width="1" height="19" fill="#c0c0c0"/>
<rect x="581" y="688" width="1" height="19" fill="#c0c0c0"/>
<rect x="589" y="688" width="1" height="18" fill="#c0c0c0"/>
<rect x="597" y="688" width="1" height="14" fill="#c0c0c0"/>
<rect x="605" y="688" width="1" height="7" fill="#c0c0c0"/>
<rect x="613" y="688" width="1" height="3" fill="#c0c0c0"/>
<rect x="621" y="685" width="1" height="4" fill="#c0c0c0"/>
<rect x="629" y="680" width="1" height="9" fill="#c0c0c0"/>
<rect x="637" y="672" width="1" height="17" fill="#c0c0c0"/>
<rect x="645" y="670" width="1" height="19" fill="#c0c0c0"/>
<rect x="653" y="668" width="1" height="21" fill="#c0c0c0"/>
<rect x="661" y="670" width="1" height="19" fill="#c0c0c0"/>
<rect x="669" y="671" width="1" height="18" fill="#c0c0c0"/>
<rect x="677" y="674" width="1" height="15" fill="#c0c0c0"/>
<rect x="685" y="681" width="1" height="8" fill="#c0c0c0"/>
<rect x="693" y="685" width="1" height="4" fill="#c0c0c0"/>
<rect x="709" y="687" width="1" height="2" fill="#c0c0c0"/>
<rect x="717" y="687" width="1" height="2" fill="#c0c0c0"/>
<rect x="741" y="688" width="1" height="3" fill="#c0c0c0"/>
<rect x="757" y="687" width="1" height="2" fill="#c0c0c0"/>
<rect x="765" y="686" width="1" height="3" fill="#c0c0c0"/>
<rect x="773" y="681" width="1" height="8" fill="#c0c0c0"/>
<rect x="781" y="678" width="1" height="11" fill="#c0c0c0"/>
<rect x="789" y="682" width="1" height="7" fill="#c0c0c0"/>
<rect x="797" y="688" width="1" height="2" fill="#c0c0c0"/>
<rect x="805" y="688" width="1" height="4" fill="#c0c0c0"/>
<rect x="813" y="688" width="1" height="4" fill="#c0c0c0"/>
<rect x="821" y="688" width="1" height="7" fill="#c0c0c0"/>
<rect x="829" y="688" width="1" height="8" fill="#c0c0c0"/>
<rect x="837" y="688" width="1" height="8" fill="#c0c0c0"/>
<rect x="845" y="688" width="1" height="13" fill="#c0c0c0"/>
<rect x="853" y="688" width="1" height="18" fill="#c0c0c0"/>
<rect x="861" y="688" width="1" height="21" fill="#c0c0c0"/>
<rect x="869" y="688" width="1" height="20" fill="#c0c0c0"/>
<rect x="877" y="688" width="1" height="20" fill="#c0c0c0"/>
<rect x="885" y="688" width="1" height="22" fill="#c0c0c0"/>
<rect x="893" y="688" width="1" height="27" fill="#c0c0c0"/>
<rect x="901" y="688" width="1" height="30" fill="#c0c0c0"/>
<rect x="909" y="688" width="1" height="32" fill="#c0c0c0"/>
<rect x="917" y="688" width="1" height="39" fill="#c0c0c0"/>
<rect x="925" y="688" width="1" height="44" fill="#c0c0c0"/>
<rect x="933" y="688" width="1" height="46" fill="#c0c0c0"/>
<rect x="941" y="688" width="1" height="48" fill="#c0c0c0"/>
<rect x="949" y="688" width="1" height="50" fill="#c0c0c0"/>
<rect x="957" y="688" width="1" height="50" fill="#c0c0c0"/>
<rect x="965" y="688" width="1" height="50" fill="#c0c0c0"/>
<rect x="973" y="688" width="1" height="46" fill="#c0c0c0"/>
<rect x="981" y="688" width="1" height="40" fill="#c0c0c0"/>
<rect x="989" y="688" width="1" height="25" fill="#c0c0c0"/>
<rect x="997" y="688" width="1" height="14" fill="#c0c0c0"/>
<rect x="1005" y="688" width="1" height="4" fill="#c0c0c0"/>
<rect x="1013" y="683" width="1" height="6" fill="#c0c0c0"/>
<rect x="1021" y="674" width="1" height="15" fill="#c0c0c0"/>
<rect x="1029" y="670" width="1" height="19" fill="#c0c0c0"/>
<rect x="1037" y="666" width="1" height="23" fill="#c0c0c0"/>
<rect x="1045" y="662" width="1" height="27" fill="#c0c0c0"/>
<rect x="1053" y="659" width="1" height="30" fill="#c0c0c0"/>
<rect x="1061" y="655" width="1" height="34" fill="#c0c0c0"/>
<rect x="1069" y="655" width="1" height="34" fill="#c0c0c0"/>
<rect x="1077" y="655" width="1" height="34" fill="#c0c0c0"/>
<rect x="1085" y="657" width="1" height="32" fill="#c0c0c0"/>
<rect x="1093" y="659" width="1" height="30" fill="#c0c0c0"/>
<rect x="1101" y="660" width="1" height="29" fill="#c0c0c0"/>
<rect x="1109" y="664" width="1" height="25" fill="#c0c0c0"/>
<rect x="1117" y="665" width="1" height="24" fill="#c0c0c0"/>
<rect x="1125" y="668" width="1" height="21" fill="#c0c0c0"/>
<rect x="1133" y="669" width="1" height="20" fill="#c0c0c0"/>
<rect x="1141" y="668" width="1" height="21" fill="#c0c0c0"/>
<rect x="1149" y="667" width="1" height="22" fill="#c0c0c0"/>
<rect x="1157" y="665" width="1" height="24" fill="#c0c0c0"/>
<rect x="1165" y="663" width="1" height="26" fill="#c0c0c0"/>
<rect x="1173" y="662" width="1" height="27" fill="#c0c0c0"/>
<rect x="1181" y="657" width="1" height="32" fill="#c0c0c0"/>
<rect x="1189" y="651" width="1" height="38" fill="#c0c0c0"/>
<rect x="1197" y="644" width="1" height="45" fill="#c0c0c0"/>
<rect x="1205" y="639" width="1" height="50" fill="#c0c0c0"/>
<rect x="1213" y="635" width="1" height="54" fill="#c0c0c0"/>
<rect x="1221" y="635" width="1" height="54" fill="#c0c0c0"/>
<rect x="1229" y="640" width="1" height="49" fill="#c0c0c0"/>
<rect x="1237" y="649" width="1" height="40" fill="#c0c0c0"/>
<rect x="1245" y="657" width="1" height="32" fill="#c0c0c0"/>
<rect x="1253" y="664" width="1" height="25" fill="#c0c0c0"/>
<rect x="1261" y="671" width="1" height="18" fill="#c0c0c0"/>
<rect x="1269" y="675" width="1" height="14" fill="#c0c0c0"/>
<rect x="1277" y="676" width="1" height="13" fill="#c0c0c0"/>
<rect x="1285" y="677" width="1" height="12" fill="#c0c0c0"/>
<rect x="1293" y="678" width="1" height="11" fill="#c0c0c0"/>
<rect x="1301" y="678" width="1" height="11" fill="#c0c0c0"/>
<rect x="1309" y="678" width="1" height="11" fill="#c0c0c0"/>
<rect x="1317" y="686" width="1" height="3" fill="#c0c0c0"/>
<rect x="1325" y="688" width="1" height="2" fill="#c0c0c0"/>
<rect x="1333" y="688" width="1" height="7" fill="#c0c0c0"/>
<rect x="1341" y="688" width="1" height="7" fill="#c0c0c0"/>
<rect x="1349" y="688" width="1" height="5" fill="#c0c0c0"/>
<rect x="1357" y="688" width="1" height="3" fill="#c0c0c0"/>
<rect x="1365" y="688" width="1" height="2" fill="#c0c0c0"/>
<rect x="1373" y="684" width="1" height="5" fill="#c0c0c0"/>
<rect x="1381" y="675" width="1" height="14" fill="#c0c0c0"/>
<rect x="1389" y="670" width="1" height="19" fill="#c0c0c0"/>
<rect x="1397" y="660" width="1" height="29" fill="#c0c0c0"/>
<rect x="1405" y="663" width="1" height="26" fill="#c0c0c0"/>
<rect x="1413" y="659" width="1" height="30" fill="#c0c0c0"/>
<rect x="1421" y="655" width="1" height="34" fill="#c0c0c0"/>
<rect x="1429" y="651" width="1" height="38" fill="#c0c0c0"/>
<rect x="1437" y="648" width="1" height="41" fill="#c0c0c0"/>
</g>
<path d="M372 686.5h2M744 686.5h3M750 686.5h2M768 686.5h3M774 686.5h3M811 686.5h2M816 686.5h3M1212 653.5h2M978 733.5h3M1074 665.5h2M1164 665.5h3M1170 665.5h3M1176 665.5h3M66 606.5h2M510 690.5h3M516 690.5h3M522 690.5h3M528 690.5h3M534 690.5h3M643 690.5h2M846 690.5h3M1374 690.5h3M906 709.5h3M1398 683.5h2M397 698.5h2M564 698.5h3M864 698.5h3M577 701.5h2M582 701.5h3M882 701.5h2M426 708.5h3M432 708.5h3M438 708.5h3M288 646.5h3M1230 646.5h3M444 707.5h3M450 707.5h2M900 707.5h3M942 722.5h3M553 694.5h2M1069 668.5h2M348 672.5h2M1063 672.5h2M1309 672.5h2M972 732.5h3M984 732.5h3M738 684.5h2M792 684.5h3M798 684.5h3M1345 684.5h2M1404 680.5h2M198 618.5h3M343 669.5h2M1303 669.5h2M955 727.5h2M1105 658.5h2M1110 658.5h3M1116 658.5h3M84 615.5h3M163 615.5h2M168 615.5h3M174 615.5h3M180 615.5h3M186 615.5h2M673 676.5h2M708 676.5h3M1411 676.5h2M570 699.5h2M624 699.5h2M870 699.5h3M108 623.5h3M114 623.5h3M120 623.5h3M126 623.5h2M948 724.5h2M409 702.5h2M468 702.5h2M588 702.5h3M612 702.5h3M1081 662.5h2M1140 662.5h3M1435 662.5h2M654 685.5h2M780 685.5h3M786 685.5h3M804 685.5h3M1350 685.5h2M1393 685.5h2M649 687.5h2M756 687.5h3M762 687.5h3M822 687.5h3M828 687.5h3M1356 687.5h3M595 703.5h2M600 703.5h3M606 703.5h3M888 703.5h2M331 663.5h2M1146 663.5h3M1188 663.5h3M1291 663.5h2M660 682.5h2M732 682.5h2M1338 682.5h3M415 704.5h2M462 704.5h2M264 640.5h3M1278 655.5h2M997 728.5h2M966 731.5h3M912 711.5h2M1098 659.5h3M1122 659.5h3M1200 659.5h2M1284 659.5h2M1242 644.5h3M1248 644.5h2M834 688.5h3M1362 688.5h3M1386 688.5h2M678 674.5h3M684 674.5h3M690 674.5h3M696 674.5h3M702 674.5h2M43 594.5h2M156 616.5h3M283 645.5h2M1236 645.5h3M1254 645.5h2M6 590.5h2M18 590.5h3M24 590.5h3M97 620.5h2M138 620.5h3M205 620.5h2M0 591.5h3M30 591.5h3M960 729.5h3M325 660.5h2M1087 660.5h2M1092 660.5h2M1129 660.5h2M715 678.5h2M361 679.5h2M666 679.5h2M720 679.5h3M1327 679.5h2M144 619.5h2M103 622.5h2M211 622.5h2M894 705.5h3M294 647.5h3M1260 647.5h2M504 691.5h3M540 691.5h3M49 597.5h2M90 617.5h2M150 617.5h3M193 617.5h2M1134 661.5h3M1194 661.5h3M246 635.5h3M420 706.5h3M456 706.5h2M924 715.5h2M1273 652.5h2M12 589.5h3M223 627.5h2M1003 725.5h2M384 692.5h3M498 692.5h3M546 692.5h3M354 675.5h2M1315 675.5h2M1153 664.5h2M1158 664.5h3M1182 664.5h3M234 632.5h3M378 689.5h2M840 689.5h3M1368 689.5h3M1381 689.5h2M931 718.5h2M492 693.5h3M636 693.5h2M853 693.5h2M1218 650.5h2M1267 650.5h2M252 637.5h3M276 643.5h3M391 695.5h2M486 695.5h3M133 621.5h2M337 666.5h2M1297 666.5h2M1429 666.5h2M306 651.5h2M727 681.5h2M1333 681.5h2M241 634.5h2M937 720.5h2M1021 710.5h2M1321 677.5h2M1206 656.5h2M1417 673.5h2M319 657.5h2M402 700.5h3M474 700.5h2M619 700.5h2M876 700.5h3M312 654.5h2M481 697.5h2M558 696.5h3M630 696.5h2M858 696.5h2M300 648.5h2M1224 648.5h2M60 603.5h2M1422 670.5h2M37 592.5h2M991 730.5h2M78 612.5h2M918 713.5h2M271 642.5h2M217 624.5h2M228 629.5h2M258 638.5h2M72 609.5h2M1352.5 686v1M1392.5 686v1M336.5 665v1M1296.5 665v1M74.5 610v1M240.5 633v1M380.5 690v1M1380.5 690v1M367.5 683v1M734.5 683v1M1050.5 683v1M1344.5 683v1M480.5 698v1M626.5 698v1M408.5 701v1M470.5 701v1M618.5 701v1M1032.5 701v1M1256.5 646v1M1008.5 722v1M390.5 694v1M1039.5 694v1M342.5 668v1M1302.5 668v1M368.5 684v1M656.5 684v1M726.5 680v1M1332.5 680v1M92.5 618v1M146.5 618v1M1068.5 669v1M1424.5 669v1M1202.5 658v1M62.5 604v1M356.5 676v1M1058.5 676v1M1320.5 676v1M476.5 699v1M1034.5 699v1M216.5 623v1M594.5 702v1M884.5 702v1M330.5 662v1M1290.5 662v1M740.5 685v1M810.5 685v1M374.5 687v1M752.5 687v1M1046.5 687v1M1388.5 687v1M414.5 703v1M464.5 703v1M1080.5 663v1M1152.5 663v1M1434.5 663v1M55.5 600v1M366.5 682v1M1051.5 682v1M1400.5 682v1M890.5 704v1M1028.5 704v1M914.5 712v1M314.5 655v1M1208.5 655v1M990.5 731v1M1020.5 711v1M324.5 659v1M1094.5 659v1M1104.5 659v1M1128.5 659v1M282.5 644v1M648.5 688v1M1045.5 688v1M1314.5 674v1M1416.5 674v1M162.5 616v1M188.5 616v1M192.5 616v1M1250.5 645v1M36.5 591v1M996.5 729v1M1286.5 660v1M360.5 678v1M668.5 678v1M1056.5 678v1M1326.5 678v1M1406.5 679v1M96.5 619v1M204.5 619v1M54.5 599v1M128.5 622v1M132.5 622v1M458.5 705v1M1027.5 705v1M1226.5 647v1M642.5 691v1M1086.5 661v1M42.5 593v1M452.5 706v1M1026.5 706v1M1016.5 715v1M308.5 652v1M1214.5 652v1M8.5 589v1M950.5 725v1M638.5 692v1M852.5 692v1M704.5 675v1M1076.5 664v1M1044.5 689v1M552.5 693v1M1040.5 693v1M632.5 695v1M1038.5 695v1M102.5 621v1M210.5 621v1M1272.5 651v1M662.5 681v1M1052.5 681v1M1010.5 720v1M672.5 677v1M714.5 677v1M1057.5 677v1M1410.5 677v1M302.5 649v1M1220.5 649v1M1266.5 649v1M318.5 656v1M1280.5 656v1M926.5 716v1M1015.5 716v1M350.5 673v1M1062.5 673v1M572.5 700v1M576.5 700v1M1033.5 700v1M56.5 601v1M396.5 697v1M860.5 697v1M1308.5 671v1M1262.5 648v1M954.5 726v1M1002.5 726v1M270.5 641v1M1428.5 667v1M48.5 596v1M80.5 613v1M68.5 607v1M936.5 719v1M1009.5 721v1M920.5 714v1M930.5 717v1M1014.5 717v1M222.5 626v1M260.5 639v1M230.5 630v1" fill="none" stroke="#ff0000" stroke-width="1" shape-rendering="crispEdges"/>
<line x1="1345" y1="692.6" x2="1440.5" y2="644.6" stroke="#ff0000" stroke-width="3.6"/>
<polygon points="1443.2,643.3 1435.1,653.0 1434.1,647.9 1430.6,644.0" fill="#ff0000"/>
<text x="120.9" y="588" font-size="10.3" fill="#000" text-anchor="end" textLength="127.2" lengthAdjust="spacingAndGlyphs">MACD(12,26,9) 0.2307 0.1498</text>
<g shape-rendering="crispEdges">
<line x1="0" y1="783.5" x2="1648" y2="783.5" stroke="#c0c0c0" stroke-dasharray="3 3" stroke-dashoffset="4"/>
<line x1="0" y1="834.5" x2="1648" y2="834.5" stroke="#c0c0c0" stroke-dasharray="3 3" stroke-dashoffset="4"/>
<line x1="0" y1="895.5" x2="1648" y2="895.5" stroke="#c0c0c0" stroke-dasharray="3 3" stroke-dashoffset="4"/>
</g>
<path d="M213 816.5h2M255 816.5h3M628 816.5h2M995 816.5h2M999 816.5h3M1156 816.5h3M1413 816.5h5M515 839.5h2M520 839.5h4M726 839.5h2M814 839.5h2M833 839.5h2M1239 839.5h3M1249 839.5h2M446 827.5h2M749 827.5h2M764 827.5h2M1115 827.5h2M1301 827.5h9M299 833.5h2M304 833.5h4M1273 833.5h2M1358 833.5h2M381 846.5h3M401 846.5h2M498 846.5h2M502 846.5h2M567 846.5h2M688 846.5h4M794 846.5h2M804 846.5h2M881 846.5h2M3 793.5h2M7 793.5h3M20 793.5h2M107 793.5h2M1194 793.5h2M1074 818.5h4M1148 818.5h4M278 823.5h2M467 823.5h2M472 823.5h4M608 823.5h2M771 823.5h2M1098 823.5h4M540 850.5h4M1329 850.5h2M84 806.5h2M173 806.5h2M188 806.5h2M1327 851.5h2M1244 837.5h3M1344 837.5h4M1350 837.5h2M384 847.5h4M399 847.5h2M500 847.5h2M565 847.5h2M685 847.5h3M800 847.5h4M883 847.5h2M1 792.5h2M10 792.5h2M16 792.5h4M133 792.5h3M1202 792.5h12M296 831.5h2M438 831.5h2M661 831.5h2M1128 831.5h2M1277 831.5h5M1290 831.5h5M90 802.5h2M237 802.5h3M86 805.5h2M175 805.5h3M186 805.5h2M349 842.5h3M425 842.5h2M509 842.5h2M699 842.5h2M818 842.5h2M826 842.5h2M871 842.5h3M1255 842.5h2M276 824.5h2M469 824.5h3M1092 824.5h6M1136 824.5h2M858 852.5h2M1324 852.5h3M352 843.5h4M423 843.5h2M507 843.5h2M573 843.5h5M697 843.5h2M790 843.5h2M823 843.5h3M874 843.5h2M1257 843.5h2M37 814.5h3M66 814.5h4M217 814.5h2M260 814.5h2M621 814.5h3M991 814.5h2M1004 814.5h3M1038 814.5h2M1161 814.5h2M1172 814.5h2M1424 814.5h4M27 797.5h2M99 797.5h2M159 797.5h2M344 838.5h2M517 838.5h3M835 838.5h3M1242 838.5h2M1247 838.5h2M1348 838.5h2M224 811.5h4M1012 811.5h4M1043 811.5h2M1047 811.5h2M1374 811.5h2M1436 811.5h2M40 813.5h4M70 813.5h2M219 813.5h2M989 813.5h2M1007 813.5h3M1026 813.5h2M1040 813.5h2M1051 813.5h2M1163 813.5h2M1168 813.5h4M1428 813.5h4M371 858.5h2M895 858.5h3M665 829.5h2M754 829.5h2M759 829.5h3M1112 829.5h2M1297 829.5h2M1269 835.5h2M-1 791.5h2M12 791.5h4M110 791.5h2M131 791.5h2M136 791.5h4M1197 791.5h5M97 798.5h2M157 798.5h2M1187 798.5h2M253 817.5h2M997 817.5h2M1152 817.5h4M954 861.5h2M962 861.5h2M356 844.5h2M405 844.5h18M493 844.5h2M571 844.5h2M578 844.5h12M695 844.5h2M821 844.5h2M876 844.5h3M1259 844.5h2M369 857.5h2M898 857.5h2M645 819.5h2M1069 819.5h5M1144 819.5h4M403 845.5h2M495 845.5h3M504 845.5h2M569 845.5h2M692 845.5h3M879 845.5h2M1020 809.5h2M513 840.5h2M524 840.5h2M831 840.5h2M1237 840.5h2M1251 840.5h2M282 820.5h2M462 820.5h2M647 820.5h3M1141 820.5h3M1408 820.5h2M328 841.5h2M427 841.5h2M511 841.5h2M828 841.5h3M869 841.5h2M1253 841.5h2M180 803.5h3M240 803.5h4M388 848.5h11M533 848.5h3M548 848.5h2M797 848.5h3M294 830.5h2M451 830.5h2M663 830.5h2M756 830.5h3M1110 830.5h2M1295 830.5h2M178 804.5h2M183 804.5h3M244 804.5h2M74 810.5h2M228 810.5h2M1016 810.5h4M1022 810.5h2M1045 810.5h2M367 856.5h2M852 856.5h2M900 856.5h6M476 822.5h2M652 822.5h2M773 822.5h9M1405 822.5h2M730 836.5h2M1341 836.5h3M1363 836.5h3M269 826.5h3M766 826.5h2M1085 826.5h3M946 864.5h2M950 864.5h2M301 834.5h3M1271 834.5h2M1354 834.5h2M1360 834.5h2M1320 853.5h4M115 788.5h2M122 788.5h5M148 788.5h2M536 849.5h4M544 849.5h4M1331 849.5h2M61 815.5h5M215 815.5h2M258 815.5h2M624 815.5h4M993 815.5h2M1002 815.5h2M1029 815.5h9M1159 815.5h2M1418 815.5h6M44 812.5h2M221 812.5h3M1010 812.5h2M1049 812.5h2M1165 812.5h3M1432 812.5h4M272 825.5h4M768 825.5h2M1088 825.5h4M101 796.5h2M161 796.5h2M1190 796.5h2M80 807.5h4M1396 807.5h2M845 854.5h3M1317 854.5h3M77 808.5h3M1378 808.5h2M933 862.5h10M964 862.5h2M24 795.5h2M103 795.5h2M163 795.5h2M308 832.5h2M709 832.5h9M1275 832.5h2M1282 832.5h8M127 789.5h2M144 789.5h4M926 866.5h2M893 859.5h2M957 859.5h2M928 865.5h2M948 865.5h2M464 821.5h2M650 821.5h2M365 855.5h2M848 855.5h4M854 855.5h2M906 855.5h4M-3 790.5h2M112 790.5h2M129 790.5h2M140 790.5h4M442 828.5h2M448 828.5h2M667 828.5h2M751 828.5h3M762 828.5h2M1299 828.5h2M5 794.5h2M22 794.5h2M105 794.5h2M93 800.5h2M1183 800.5h2M95 799.5h2M1185 799.5h2M922 867.5h4M959 860.5h3M931 863.5h2M943 863.5h3M1181 801.5h2M917 868.5h5M117 787.5h5M197.5 816v1M252.5 815v2M262.5 815v2M620.5 815v2M643.5 816v1M988.5 815v3M1067.5 815v2M1227.5 816v2M1372.5 814v3M1402.5 816v2M312.5 839v3M324.5 839v2M326.5 839v1M338.5 839v1M346.5 839v1M430.5 839v1M490.5 839v2M591.5 839v2M679.5 839v1M703.5 839v1M724.5 839v1M738.5 839v1M743.5 838v2M788.5 839v2M812.5 839v1M838.5 839v2M981.5 838v2M1237.5 839v1M1266.5 839v1M1313.5 839v4M1339.5 839v1M292.5 827v2M444.5 827v1M456.5 826v2M481.5 827v1M598.5 827v1M613.5 827v1M657.5 826v2M669.5 827v1M783.5 826v3M985.5 825v3M1105.5 827v1M1118.5 827v1M1133.5 827v1M1232.5 827v2M1368.5 827v3M309.5 833v1M436.5 833v1M486.5 833v2M594.5 833v2M674.5 833v1M708.5 833v1M718.5 833v1M746.5 832v2M785.5 831v3M983.5 831v4M1124.5 833v1M1126.5 833v1M1234.5 832v2M1311.5 833v3M1356.5 833v1M1366.5 833v3M314.5 845v3M321.5 845v2M358.5 845v2M531.5 846v1M684.5 845v2M841.5 845v2M865.5 845v2M974.5 846v1M1315.5 846v3M1334.5 846v2M153.5 793v1M1214.5 793v2M199.5 818v1M211.5 818v1M264.5 818v2M285.5 818v1M619.5 817v2M644.5 817v2M987.5 818v4M1068.5 817v2M1228.5 818v2M1371.5 817v3M1403.5 818v2M1411.5 818v1M204.5 823v1M206.5 823v1M267.5 823v1M289.5 823v2M458.5 823v2M478.5 823v1M602.5 823v1M615.5 823v2M654.5 823v1M781.5 823v1M986.5 822v3M1082.5 823v1M1138.5 823v1M1230.5 822v2M1369.5 823v4M1405.5 823v1M316.5 850v3M319.5 849v2M361.5 849v2M379.5 849v2M551.5 850v2M563.5 850v1M843.5 849v2M861.5 850v1M886.5 849v2M971.5 850v2M1316.5 849v4M33.5 806v2M51.5 806v1M54.5 805v2M233.5 806v1M246.5 805v2M1061.5 806v1M1178.5 806v1M1222.5 806v2M1381.5 806v1M1397.5 806v1M318.5 851v2M362.5 851v1M378.5 851v1M562.5 851v1M844.5 851v2M860.5 851v1M887.5 851v1M311.5 837v2M339.5 837v2M343.5 837v1M432.5 837v1M488.5 836v2M592.5 837v2M678.5 837v2M705.5 836v2M722.5 837v1M729.5 837v1M736.5 837v1M744.5 836v2M787.5 836v3M837.5 837v1M982.5 835v3M1236.5 837v2M1267.5 837v2M1312.5 836v3M1340.5 837v2M1365.5 837v1M320.5 847v2M359.5 847v1M380.5 847v2M532.5 847v1M796.5 847v1M842.5 847v2M864.5 847v1M973.5 847v1M109.5 792v1M152.5 792v1M1196.5 792v1M453.5 831v1M484.5 831v1M595.5 831v2M673.5 831v2M747.5 830v2M1109.5 831v1M1122.5 831v1M1233.5 829v3M1310.5 829v4M1367.5 830v3M31.5 802v2M170.5 801v2M1180.5 802v2M1220.5 802v2M32.5 804v2M52.5 805v1M172.5 804v2M234.5 805v1M1179.5 804v2M1221.5 804v2M313.5 842v3M323.5 841v2M330.5 842v1M335.5 842v2M492.5 842v2M527.5 842v1M590.5 841v2M681.5 841v2M741.5 842v1M789.5 841v2M809.5 842v1M839.5 841v2M868.5 842v1M978.5 842v1M1263.5 842v2M1337.5 842v1M205.5 824v1M268.5 824v2M479.5 824v2M601.5 824v1M610.5 824v1M655.5 824v1M770.5 824v1M782.5 824v2M1083.5 824v1M1102.5 824v1M1231.5 824v3M363.5 852v1M377.5 852v2M552.5 852v1M561.5 852v2M888.5 852v1M970.5 852v2M322.5 843v2M331.5 843v1M528.5 843v1M589.5 843v1M682.5 843v1M808.5 843v1M820.5 843v1M840.5 843v2M867.5 843v1M977.5 843v1M1314.5 843v3M1336.5 843v2M60.5 813v2M195.5 813v2M251.5 813v2M631.5 814v1M641.5 813v2M989.5 814v1M1028.5 814v1M1053.5 814v1M1066.5 814v1M1226.5 814v2M1388.5 814v1M1390.5 814v1M1401.5 814v2M156.5 797v1M167.5 797v1M1189.5 797v1M1216.5 796v2M325.5 838v1M431.5 838v1M489.5 838v1M704.5 838v1M723.5 838v1M728.5 838v1M737.5 838v1M813.5 838v1M35.5 810v2M46.5 811v1M58.5 811v1M73.5 811v1M193.5 811v1M249.5 810v2M634.5 811v1M639.5 811v1M1024.5 811v1M1056.5 811v1M1064.5 811v1M1175.5 810v2M1224.5 810v2M1385.5 810v2M1393.5 810v2M1399.5 810v2M36.5 812v2M632.5 813v1M1054.5 813v1M1065.5 812v2M1174.5 812v2M1225.5 812v2M1373.5 812v2M1387.5 813v1M1391.5 813v1M1400.5 812v2M374.5 857v2M557.5 858v1M892.5 857v2M911.5 858v2M967.5 858v2M293.5 829v1M441.5 829v1M450.5 829v1M454.5 829v2M483.5 829v2M596.5 829v2M659.5 829v1M671.5 829v1M748.5 828v2M784.5 829v2M984.5 828v3M1107.5 829v1M1120.5 829v1M1131.5 829v1M310.5 834v3M341.5 835v1M434.5 835v1M487.5 835v1M593.5 835v2M676.5 835v1M706.5 835v1M720.5 835v1M732.5 835v1M734.5 835v1M745.5 834v2M786.5 834v2M1235.5 834v3M1353.5 835v1M1362.5 835v1M151.5 790v2M29.5 798v2M168.5 798v2M1217.5 798v1M198.5 817v1M212.5 817v1M263.5 817v1M1412.5 817v1M913.5 861v2M966.5 860v2M332.5 844v1M334.5 844v1M506.5 844v1M529.5 844v1M683.5 844v1M792.5 844v1M807.5 844v1M866.5 844v1M976.5 844v1M1262.5 844v1M556.5 857v1M558.5 856v2M910.5 856v2M968.5 856v2M200.5 819v1M210.5 819v1M284.5 819v1M286.5 819v2M461.5 819v1M618.5 819v1M1078.5 819v1M1410.5 819v1M333.5 845v1M530.5 845v1M793.5 845v1M806.5 845v1M975.5 845v1M1261.5 845v1M1335.5 845v1M34.5 808v2M48.5 809v1M57.5 809v2M76.5 809v1M191.5 808v2M230.5 809v1M248.5 809v1M636.5 809v1M638.5 809v2M1058.5 809v1M1063.5 809v2M1176.5 809v1M1223.5 808v2M1377.5 809v1M1384.5 809v1M1394.5 809v1M1398.5 808v2M327.5 840v1M337.5 840v1M347.5 840v1M429.5 840v1M680.5 840v1M702.5 840v1M725.5 840v1M739.5 840v1M742.5 840v2M811.5 840v1M816.5 840v1M980.5 840v1M1265.5 840v1M1338.5 840v2M201.5 820v1M209.5 820v1M265.5 820v1M460.5 820v2M605.5 820v1M617.5 820v2M1079.5 820v1M1229.5 820v2M1370.5 820v3M1404.5 820v2M336.5 841v1M348.5 841v1M491.5 841v1M526.5 841v1M701.5 841v1M740.5 841v1M810.5 841v1M817.5 841v1M979.5 841v1M1264.5 841v1M89.5 803v1M171.5 803v1M236.5 803v1M315.5 848v2M360.5 848v1M564.5 848v2M863.5 848v1M885.5 848v1M972.5 848v2M1333.5 848v1M440.5 830v1M660.5 830v1M672.5 830v1M1108.5 830v1M1121.5 830v1M1130.5 830v1M53.5 804v1M88.5 804v1M235.5 804v1M47.5 810v1M192.5 810v1M635.5 810v1M1057.5 810v1M1376.5 810v1M375.5 855v2M555.5 855v2M891.5 856v1M203.5 822v1M207.5 822v1M266.5 821v2M280.5 822v1M288.5 822v1M459.5 822v1M466.5 822v1M603.5 822v1M607.5 822v1M616.5 822v1M1081.5 822v1M1139.5 822v1M340.5 836v1M342.5 836v1M433.5 836v1M677.5 836v1M721.5 836v1M735.5 836v1M1268.5 836v1M1352.5 836v1M291.5 826v1M445.5 826v1M480.5 826v1M599.5 826v1M612.5 826v1M614.5 825v2M1104.5 826v1M1117.5 826v1M1134.5 826v1M915.5 864v2M930.5 864v1M435.5 834v1M675.5 834v1M707.5 834v1M719.5 834v1M733.5 834v1M1125.5 834v1M317.5 853v2M364.5 853v2M553.5 853v1M845.5 853v1M857.5 853v1M889.5 853v2M1317.5 853v1M550.5 849v1M862.5 849v1M196.5 815v1M630.5 815v1M642.5 815v1M1389.5 815v1M59.5 812v1M72.5 812v1M194.5 812v1M250.5 812v1M633.5 812v1M640.5 812v1M1025.5 812v1M1042.5 812v1M1055.5 812v1M1386.5 812v1M1392.5 812v1M290.5 825v1M457.5 825v1M600.5 825v1M611.5 825v1M656.5 825v1M1084.5 825v1M1103.5 825v1M1135.5 825v1M26.5 796v1M155.5 795v2M166.5 795v2M50.5 807v1M55.5 807v1M190.5 807v1M232.5 807v1M247.5 807v2M1060.5 807v1M1062.5 807v2M1177.5 807v2M1380.5 807v1M1382.5 807v1M376.5 854v1M554.5 854v1M560.5 854v1M856.5 854v1M969.5 854v2M49.5 808v1M56.5 808v1M231.5 808v1M637.5 808v1M1059.5 808v1M1383.5 808v1M1395.5 808v1M953.5 862v1M1192.5 795v1M1215.5 795v1M298.5 832v1M437.5 832v1M485.5 832v1M1123.5 832v1M1127.5 832v1M1357.5 832v1M114.5 789v1M150.5 789v1M916.5 866v2M373.5 859v1M202.5 821v1M208.5 821v1M281.5 821v1M287.5 821v1M604.5 821v1M606.5 821v1M1080.5 821v1M1140.5 821v1M1407.5 821v1M559.5 855v1M890.5 855v1M455.5 828v1M482.5 828v1M597.5 828v1M658.5 828v1M670.5 828v1M1106.5 828v1M1114.5 828v1M1119.5 828v1M1132.5 828v1M1309.5 828v1M154.5 794v1M165.5 794v1M1193.5 794v1M30.5 800v2M169.5 800v1M1218.5 799v2M912.5 860v1M956.5 860v1M914.5 863v1M952.5 863v1M92.5 801v1M1219.5 801v1" fill="none" stroke="#1e90ff" stroke-width="1" shape-rendering="crispEdges"/>
<line x1="1333.5" y1="848.5" x2="1447.2" y2="810.9" stroke="#ff0000" stroke-width="3.6"/>
<polygon points="1450,810 1440.7,817.9 1440.6,813.1 1437.8,809.2" fill="#ff0000"/>
<text x="60.9" y="760" font-size="10.3" fill="#000" text-anchor="end" textLength="67.6" lengthAdjust="spacingAndGlyphs">RSI(14) 63.8819</text>
<g shape-rendering="crispEdges" fill="#000">
<rect x="0" y="20" width="1649" height="1"/>
<rect x="1648" y="20" width="1" height="902"/>
<rect x="0" y="573" width="1649" height="1"/><rect x="0" y="575" width="1649" height="1"/>
<rect x="0" y="745" width="1649" height="1"/><rect x="0" y="747" width="1649" height="1"/>
<rect x="0" y="921" width="1649" height="1"/>
<rect x="0" y="574" width="1649" height="1" fill="#fff"/><rect x="0" y="746" width="1649" height="1" fill="#fff"/>
<rect x="1649" y="42" width="2" height="1"/>
<rect x="1649" y="75" width="2" height="1"/>
<rect x="1649" y="108" width="2" height="1"/>
<rect x="1649" y="141" width="2" height="1"/>
<rect x="1649" y="174" width="2" height="1"/>
<rect x="1649" y="207" width="2" height="1"/>
<rect x="1649" y="240" width="2" height="1"/>
<rect x="1649" y="273" width="2" height="1"/>
<rect x="1649" y="306" width="2" height="1"/>
<rect x="1649" y="339" width="2" height="1"/>
<rect x="1649" y="372" width="2" height="1"/>
<rect x="1649" y="405" width="2" height="1"/>
<rect x="1649" y="438" width="2" height="1"/>
<rect x="1649" y="471" width="2" height="1"/>
<rect x="1649" y="504" width="2" height="1"/>
<rect x="1649" y="537" width="2" height="1"/>
<rect x="1649" y="570" width="2" height="1"/>
<rect x="1649" y="577" width="1" height="1"/>
<rect x="1649" y="688" width="1" height="1"/>
<rect x="1649" y="744" width="1" height="1"/>
<rect x="1649" y="749" width="1" height="1"/>
<rect x="53" y="921" width="1" height="4"/>
<rect x="117" y="921" width="1" height="4"/>
<rect x="181" y="921" width="1" height="4"/>
<rect x="245" y="921" width="1" height="4"/>
<rect x="309" y="921" width="1" height="4"/>
<rect x="373" y="921" width="1" height="4"/>
<rect x="437" y="921" width="1" height="4"/>
<rect x="501" y="921" width="1" height="4"/>
<rect x="565" y="921" width="1" height="4"/>
<rect x="629" y="921" width="1" height="4"/>
<rect x="693" y="921" width="1" height="4"/>
<rect x="757" y="921" width="1" height="4"/>
<rect x="821" y="921" width="1" height="4"/>
<rect x="885" y="921" width="1" height="4"/>
<rect x="949" y="921" width="1" height="4"/>
<rect x="1013" y="921" width="1" height="4"/>
<rect x="1077" y="921" width="1" height="4"/>
<rect x="1141" y="921" width="1" height="4"/>
<rect x="1205" y="921" width="1" height="4"/>
<rect x="1269" y="921" width="1" height="4"/>
<rect x="1333" y="921" width="1" height="4"/>
<rect x="1397" y="921" width="1" height="4"/>
</g>
<text x="1654.4" y="46" font-size="10.3" fill="#000" textLength="32.5" lengthAdjust="spacingAndGlyphs">115.350</text>
<text x="1654.4" y="79" font-size="10.3" fill="#000" textLength="32.5" lengthAdjust="spacingAndGlyphs">115.170</text>
<text x="1654.4" y="112" font-size="10.3" fill="#000" textLength="32.5" lengthAdjust="spacingAndGlyphs">114.995</text>
<text x="1654.4" y="145" font-size="10.3" fill="#000" textLength="32.5" lengthAdjust="spacingAndGlyphs">114.820</text>
<text x="1654.4" y="178" font-size="10.3" fill="#000" textLength="32.5" lengthAdjust="spacingAndGlyphs">114.640</text>
<text x="1654.4" y="211" font-size="10.3" fill="#000" textLength="32.5" lengthAdjust="spacingAndGlyphs">114.465</text>
<text x="1654.4" y="244" font-size="10.3" fill="#000" textLength="32.5" lengthAdjust="spacingAndGlyphs">114.285</text>
<text x="1654.4" y="277" font-size="10.3" fill="#000" textLength="31.8" lengthAdjust="spacingAndGlyphs">114.110</text>
<text x="1654.4" y="310" font-size="10.3" fill="#000" textLength="32.5" lengthAdjust="spacingAndGlyphs">113.930</text>
<text x="1654.4" y="343" font-size="10.3" fill="#000" textLength="32.5" lengthAdjust="spacingAndGlyphs">113.755</text>
<text x="1654.4" y="376" font-size="10.3" fill="#000" textLength="32.5" lengthAdjust="spacingAndGlyphs">113.575</text>
<text x="1654.4" y="409" font-size="10.3" fill="#000" textLength="32.5" lengthAdjust="spacingAndGlyphs">113.400</text>
<text x="1654.4" y="442" font-size="10.3" fill="#000" textLength="32.5" lengthAdjust="spacingAndGlyphs">113.220</text>
<text x="1654.4" y="475" font-size="10.3" fill="#000" textLength="32.5" lengthAdjust="spacingAndGlyphs">113.045</text>
<text x="1654.4" y="508" font-size="10.3" fill="#000" textLength="32.5" lengthAdjust="spacingAndGlyphs">112.870</text>
<text x="1654.4" y="541" font-size="10.3" fill="#000" textLength="32.5" lengthAdjust="spacingAndGlyphs">112.690</text>
<text x="1654.4" y="574" font-size="10.3" fill="#000" textLength="32.5" lengthAdjust="spacingAndGlyphs">112.515</text>
<text x="1652" y="586.0" font-size="10.3" fill="#000" textLength="28.0" lengthAdjust="spacingAndGlyphs">0.5869</text>
<text x="1652" y="692.0" font-size="10.3" fill="#000" textLength="17.8" lengthAdjust="spacingAndGlyphs">0.00</text>
<text x="1652" y="742.0" font-size="10.3" fill="#000" textLength="31.1" lengthAdjust="spacingAndGlyphs">-0.2973</text>
<text x="1652" y="758.0" font-size="10.3" fill="#000" textLength="15.3" lengthAdjust="spacingAndGlyphs">100</text>
<text x="1652" y="787.0" font-size="10.3" fill="#000" textLength="10.2" lengthAdjust="spacingAndGlyphs">80</text>
<text x="1652" y="838.0" font-size="10.3" fill="#000" textLength="10.2" lengthAdjust="spacingAndGlyphs">50</text>
<text x="1652" y="899.0" font-size="10.3" fill="#000" textLength="10.2" lengthAdjust="spacingAndGlyphs">15</text>
<text x="1652" y="918.0" font-size="10.3" fill="#000" textLength="5.1" lengthAdjust="spacingAndGlyphs">0</text>
<rect x="1650" y="26" width="41" height="11" fill="#ff0000" shape-rendering="crispEdges"/>
<text x="1654.4" y="35" font-size="10.3" fill="#fff" textLength="32.5" lengthAdjust="spacingAndGlyphs">115.401</text>
<rect x="1643.5" y="30.5" width="4" height="4" fill="#fff" stroke="#ff0000" shape-rendering="crispEdges"/>
<rect x="1650" y="49" width="41" height="11" fill="#ff0000" shape-rendering="crispEdges"/>
<text x="1654.4" y="58" font-size="10.3" fill="#fff" textLength="32.5" lengthAdjust="spacingAndGlyphs">115.278</text>
<rect x="1643.5" y="53.5" width="4" height="4" fill="#fff" stroke="#ff0000" shape-rendering="crispEdges"/>
<rect x="1650" y="95" width="41" height="11" fill="#32cd32" shape-rendering="crispEdges"/>
<text x="1654.4" y="104" font-size="10.3" fill="#fff" textLength="32.5" lengthAdjust="spacingAndGlyphs">115.035</text>
<rect x="1643.5" y="99.5" width="4" height="4" fill="#fff" stroke="#32cd32" shape-rendering="crispEdges"/>
<rect x="1650" y="115" width="41" height="11" fill="#0000ff" shape-rendering="crispEdges"/>
<text x="1654.4" y="124" font-size="10.3" fill="#fff" textLength="32.5" lengthAdjust="spacingAndGlyphs">114.924</text>
<rect x="1643.5" y="119.5" width="4" height="4" fill="#fff" stroke="#0000ff" shape-rendering="crispEdges"/>
<rect x="1650" y="139" width="41" height="11" fill="#0000ff" shape-rendering="crispEdges"/>
<text x="1654.4" y="148" font-size="10.3" fill="#fff" textLength="32.5" lengthAdjust="spacingAndGlyphs">114.799</text>
<rect x="1643.5" y="143.5" width="4" height="4" fill="#fff" stroke="#0000ff" shape-rendering="crispEdges"/>
<rect x="1650" y="78" width="41" height="11" fill="#000" shape-rendering="crispEdges"/>
<text x="1654.4" y="87" font-size="10.3" fill="#fff" textLength="32.5" lengthAdjust="spacingAndGlyphs">115.131</text>
<text x="41" y="934" font-size="10.3" fill="#000" text-anchor="end" textLength="50.9" lengthAdjust="spacingAndGlyphs">13 Oct 2021</text>
<text x="52.3" y="934" font-size="10.3" fill="#000" textLength="53.5" lengthAdjust="spacingAndGlyphs">14 Oct 00:00</text>
<text x="116.3" y="934" font-size="10.3" fill="#000" textLength="53.5" lengthAdjust="spacingAndGlyphs">15 Oct 08:00</text>
<text x="180.3" y="934" font-size="10.3" fill="#000" textLength="53.5" lengthAdjust="spacingAndGlyphs">18 Oct 16:00</text>
<text x="244.3" y="934" font-size="10.3" fill="#000" textLength="53.5" lengthAdjust="spacingAndGlyphs">20 Oct 00:00</text>
<text x="308.3" y="934" font-size="10.3" fill="#000" textLength="53.5" lengthAdjust="spacingAndGlyphs">21 Oct 08:00</text>
<text x="372.3" y="934" font-size="10.3" fill="#000" textLength="53.5" lengthAdjust="spacingAndGlyphs">22 Oct 16:00</text>
<text x="436.3" y="934" font-size="10.3" fill="#000" textLength="53.5" lengthAdjust="spacingAndGlyphs">26 Oct 00:00</text>
<text x="500.3" y="934" font-size="10.3" fill="#000" textLength="53.5" lengthAdjust="spacingAndGlyphs">27 Oct 08:00</text>
<text x="564.3" y="934" font-size="10.3" fill="#000" textLength="53.5" lengthAdjust="spacingAndGlyphs">28 Oct 16:00</text>
<text x="628.3" y="934" font-size="10.3" fill="#000" textLength="50.4" lengthAdjust="spacingAndGlyphs">1 Nov 00:00</text>
<text x="692.3" y="934" font-size="10.3" fill="#000" textLength="50.4" lengthAdjust="spacingAndGlyphs">2 Nov 08:00</text>
<text x="756.3" y="934" font-size="10.3" fill="#000" textLength="50.4" lengthAdjust="spacingAndGlyphs">3 Nov 16:00</text>
<text x="820.3" y="934" font-size="10.3" fill="#000" textLength="50.4" lengthAdjust="spacingAndGlyphs">5 Nov 00:00</text>
<text x="884.3" y="934" font-size="10.3" fill="#000" textLength="50.4" lengthAdjust="spacingAndGlyphs">8 Nov 08:00</text>
<text x="948.3" y="934" font-size="10.3" fill="#000" textLength="50.4" lengthAdjust="spacingAndGlyphs">9 Nov 16:00</text>
<text x="1012.3" y="934" font-size="10.3" fill="#000" textLength="54.9" lengthAdjust="spacingAndGlyphs">11 Nov 00:00</text>
<text x="1076.3" y="934" font-size="10.3" fill="#000" textLength="55.6" lengthAdjust="spacingAndGlyphs">12 Nov 08:00</text>
<text x="1140.3" y="934" font-size="10.3" fill="#000" textLength="55.6" lengthAdjust="spacingAndGlyphs">15 Nov 16:00</text>
<text x="1204.3" y="934" font-size="10.3" fill="#000" textLength="55.6" lengthAdjust="spacingAndGlyphs">17 Nov 00:00</text>
<text x="1268.3" y="934" font-size="10.3" fill="#000" textLength="55.6" lengthAdjust="spacingAndGlyphs">18 Nov 08:00</text>
<text x="1332.3" y="934" font-size="10.3" fill="#000" textLength="55.6" lengthAdjust="spacingAndGlyphs">19 Nov 16:00</text>
<text x="1396.3" y="934" font-size="10.3" fill="#000" textLength="55.6" lengthAdjust="spacingAndGlyphs">23 Nov 00:00</text>
<rect x="1693" y="18" width="1" height="923" fill="#f8f8f8"/><rect x="1694" y="18" width="1" height="923" fill="#ececec"/>
<g id="toolbar">
<defs>
<clipPath id="ct"><rect x="0" y="0" width="1695" height="15"/></clipPath>
<linearGradient id="gGold" x1="0" y1="0" x2="1" y2="1"><stop offset="0" stop-color="#f6d860"/><stop offset="1" stop-color="#c88a10"/></linearGradient>
<linearGradient id="gPlus" x1="0" y1="0" x2="0" y2="1"><stop offset="0" stop-color="#58e858"/><stop offset="1" stop-color="#10a010"/></linearGradient>
<pattern id="dots" width="2" height="2" patternUnits="userSpaceOnUse"><rect width="2" height="2" fill="#f0f0f0"/><rect width="1" height="1" fill="#fbfbfb"/><rect x="1" y="1" width="1" height="1" fill="#fbfbfb"/></pattern>
</defs>
<rect x="0" y="0" width="1695" height="15" fill="#f0f0f0"/>
<rect x="0" y="15" width="1695" height="1" fill="#f5f5f5"/>
<rect x="0" y="16" width="1694" height="1" fill="#a0a0a0"/>
<rect x="0" y="17" width="1694" height="1" fill="#696969"/>
<rect x="0" y="18" width="1695" height="2" fill="#fff"/>
<g clip-path="url(#ct)">
<!-- selected button backgrounds -->
<rect x="284" y="0" width="24" height="14" fill="url(#dots)"/>
<rect x="436" y="0" width="26" height="14" fill="url(#dots)"/>
<rect x="464" y="0" width="26" height="14" fill="url(#dots)"/>
<rect x="624" y="0" width="24" height="14" fill="url(#dots)"/>
<rect x="1070" y="0" width="23" height="14" fill="url(#dots)"/>
<g shape-rendering="crispEdges">
<!-- separators -->
<rect x="9" y="0" width="1" height="14" fill="#a0a0a0"/>
<rect x="245" y="0" width="1" height="15" fill="#a0a0a0"/>
<rect x="283" y="0" width="1" height="14" fill="#a0a0a0"/>
<rect x="340" y="0" width="1" height="14" fill="#a0a0a0"/>
<rect x="430" y="0" width="1" height="14" fill="#a0a0a0"/>
<rect x="435" y="0" width="1" height="14" fill="#a0a0a0"/>
<rect x="463" y="0" width="1" height="14" fill="#a0a0a0"/>
<rect x="492" y="0" width="1" height="14" fill="#a0a0a0"/>
<rect x="613" y="0" width="1" height="15" fill="#8a8a8a"/>
<rect x="623" y="0" width="1" height="14" fill="#808080"/>
<rect x="680" y="0" width="1" height="14" fill="#a0a0a0"/>
<rect x="919" y="0" width="1" height="15" fill="#a0a0a0"/>
<rect x="1069" y="0" width="1" height="14" fill="#909090"/>
<rect x="1180" y="0" width="1" height="15" fill="#a0a0a0"/>
<!-- grips -->
<g fill="#a8a8a8">
<rect x="248" y="0" width="4" height="1"/><rect x="248" y="2" width="4" height="1"/><rect x="248" y="4" width="4" height="1"/><rect x="248" y="6" width="4" height="1"/><rect x="248" y="8" width="4" height="1"/><rect x="248" y="10" width="4" height="1"/><rect x="248" y="12" width="4" height="1"/>
<rect x="616" y="0" width="4" height="1"/><rect x="616" y="2" width="4" height="1"/><rect x="616" y="4" width="4" height="1"/><rect x="616" y="6" width="4" height="1"/><rect x="616" y="8" width="4" height="1"/><rect x="616" y="10" width="4" height="1"/><rect x="616" y="12" width="4" height="1"/>
<rect x="923" y="0" width="3" height="1"/><rect x="923" y="2" width="3" height="1"/><rect x="923" y="4" width="3" height="1"/><rect x="923" y="6" width="3" height="1"/><rect x="923" y="8" width="3" height="1"/><rect x="923" y="10" width="3" height="1"/><rect x="923" y="12" width="3" height="1"/>
</g>
</g>
<!-- left chevron -->
<path d="M-1 10l3 2.5-3 2.5z" fill="#6070c0"/><path d="M-2 11l2 1.5-2 1.5" fill="#e0b040"/>
<!-- new order icon -->
<rect x="19.5" y="-3" width="11" height="12" rx="1" fill="#fff" stroke="#9a9a9a"/>
<path d="M22 2h6M22 4h4" stroke="#b0b0b0" stroke-width="1"/>
<path d="M27.500 2h3.200v4.400h4.400v3.200h-4.400v4.400h-3.200v-4.400h-4.400v-3.200h4.400z" fill="url(#gPlus)" stroke="#0c8a0c" stroke-width="0.8"/>
<!-- 新订单 (approx strokes) -->
<g stroke="#1a1a1a" stroke-width="1.1" fill="none">
<path d="M38 1.500h6M41 1.500v6M39 3.500l-1.500 3.500M43 3.500l1.500 3M46 0v4l-1.500 3.500M46 1.500h4M48.500 1.500v6.500"/>
<path d="M52 1l1.500 1.500M52.500 4v3.500l1.500-1M55 .5h6M58.500 .5v6.500l-2 .8"/>
<path d="M63 2.500h11M64.500 0h8M68.500 -1v9.500M64.500 -2v2M72.500 -2v2" stroke-width="1.2"/>
</g>
<!-- gold book -->
<path d="M87 4.500L95 -3l8 6.500-8 8.500z" fill="url(#gGold)" stroke="#b07808" stroke-width="0.8"/>
<path d="M87.500 5.500l7.500 6.500 8-8.500" fill="none" stroke="#a87008" stroke-width="2"/><path d="M88.500 5l6.500 5.500 7-7.500" fill="none" stroke="#f4e4a0" stroke-width="0.800"/>
<!-- cloud -->
<rect x="116" y="-3" width="12" height="9" fill="#2f8fe8"/><rect x="120" y="-2" width="4" height="6" fill="#d8ecff"/>
<path d="M115 9.500a2.500 2.500 0 0 1 2.500-3.500a3.500 3.500 0 0 1 6.500-1a3 3 0 0 1 5 2.500a2 2 0 0 1-1 3.500h-11a2.500 2.500 0 0 1-2-1.500z" fill="#eef2fa" stroke="#6080b8" stroke-width="0.8"/>
<!-- signal -->
<circle cx="150" cy="3.500" r="7" fill="#b8dcb8" opacity="0.9"/>
<path d="M150 -3.500a7 7 0 0 0 0 14" fill="#f0f0f0"/>
<path d="M146.500 -1a6 6 0 0 0 0 9M144 -2.500a8 8 0 0 0 0 12" fill="none" stroke="#4070d0" stroke-width="1"/>
<path d="M153.500 -1a6 6 0 0 1 0 9" fill="none" stroke="#60a860" stroke-width="1"/>
<circle cx="150" cy="3.500" r="1.800" fill="#3060d0"/>
<path d="M150.500 4v7.500" stroke="#20a020" stroke-width="1.600"/>
<!-- auto trading -->
<path d="M169 2h15l-2 8-5 2z" fill="#f4d850" stroke="#c8a020" stroke-width="0.6"/>
<ellipse cx="177" cy="0.500" rx="8" ry="3" fill="#58b8e8" stroke="#2888c0" stroke-width="0.6"/>
<circle cx="181.500" cy="8" r="4.200" fill="#e02818"/><rect x="180" y="6.500" width="3" height="3" fill="#fff"/>
<!-- 自动交易 (approx strokes) -->
<g stroke="#1a1a1a" stroke-width="1.100" fill="none">
<path d="M191.500 -2v9.800M199.500 -2v9.800M191.500 1h8M191.500 4.200h8M191.500 7.500h8" stroke-width="1.200"/>
<path d="M202 1h5M203 4l-1 3.200l4.500-.8M206 3.500l1.500 4M208.500 .5h5.500M214 .5v6l-1.500 1M211 -2c0 5-1 7.500-3 9.500"/>
<path d="M216 1.500h10M219 3l-2.500 2M223 3l2.500 2M224 4c-2 2.500-4 3.500-8 4.500M218.500 4c2 2.500 4 3.500 8 4.500"/>
<path d="M229.500 -2h7v3h-7zM229.500 -.5h7M228.500 3h9.500v3c0 1.500-.5 2-2 2M231 3c-.5 1.500-1.500 2.500-3 3.500M233 4.500l-3 4M235.500 4.500l-3 4"/>
</g>
<!-- chart type icons -->
<g stroke="#505050" stroke-width="1" fill="none" shape-rendering="crispEdges">
<path d="M263.500 -1v13M261 9.500h13"/><path d="M290.500 -1v13M288 9.500h13"/><path d="M319.500 -1v13M317 9.500h13"/>
<path d="M443.500 -1v13M441 9.500h13"/><path d="M471.500 -1v13M469 9.500h13"/>
</g>
<g fill="#505050"><path d="M273 8l2.500 1.500-2.500 1.500z"/><path d="M300 8l2.500 1.500-2.500 1.500z"/><path d="M329 8l2.500 1.500-2.500 1.500z"/><path d="M453 8l2.500 1.500-2.500 1.500z"/><path d="M481 8l2.500 1.500-2.500 1.500z"/></g>
<path d="M267 7.500h3v-6.500h2.500" stroke="#10a030" stroke-width="1.200" fill="none" shape-rendering="crispEdges"/>
<rect x="295.500" y="-2" width="4" height="7.500" fill="#20c040" stroke="#109030" stroke-width="0.6"/><path d="M297.500 5.500v2.500" stroke="#109030"/>
<path d="M319 7c2-4 4-6.500 6-6s3 3 5.500 4.500" stroke="#20a040" stroke-width="1.100" fill="none"/>
<!-- zoom in/out -->
<path d="M359 6l5.500 5.500" stroke="#d0a020" stroke-width="2.600" stroke-linecap="round"/>
<circle cx="355" cy="2" r="5.500" fill="#cfe6f8" stroke="#3a80c8" stroke-width="1.200"/>
<path d="M352 2h6M355 -1v6" stroke="#2060c0" stroke-width="1.600"/>
<path d="M387 6l5.500 5.500" stroke="#d0a020" stroke-width="2.600" stroke-linecap="round"/>
<circle cx="383" cy="2" r="5.500" fill="#cfe6f8" stroke="#3a80c8" stroke-width="1.200"/>
<path d="M380 2h6" stroke="#2060c0" stroke-width="1.600"/>
<!-- grid icon -->
<g shape-rendering="crispEdges">
<rect x="405" y="-3" width="7" height="6" fill="#58b030"/><rect x="414" y="-3" width="7" height="6" fill="#3060d8"/>
<rect x="405" y="4" width="7" height="7.500" fill="#2848c8"/><rect x="414" y="4" width="7" height="7.500" fill="#48a828"/>
<rect x="406" y="0" width="5" height="1.500" fill="#e8f4e0"/><rect x="415" y="0" width="5" height="1.500" fill="#e0e8ff"/>
<rect x="406" y="7.500" width="5" height="2.500" fill="#e0e8ff"/><rect x="415" y="7.500" width="5" height="2.500" fill="#e8f4e0"/>
</g>
<!-- autoscroll / shift -->
<path d="M448.500 .5v6.500l3.500-3.250z" fill="#d0f0d0" stroke="#20a030" stroke-width="1"/>
<path d="M477.500 -1v9" stroke="#2060c0" stroke-width="1.200"/><path d="M483.500 3.500h-5M480.500 1.500l-2 2l2 2" stroke="#e04010" stroke-width="1.100" fill="none"/>
<!-- doc + plus -->
<rect x="502.500" y="-3" width="10.500" height="12.500" rx="1" fill="#fff" stroke="#9a9a9a"/>
<path d="M510.400 2.500h3.200v4h4.400v3.200h-4.400v4h-3.200v-4h-4.400v-3.200h4.400z" fill="url(#gPlus)" stroke="#0c8a0c" stroke-width="0.800"/>
<g fill="#101010"><path d="M524 3h5l-2.500 3z"/><path d="M563 3h5l-2.500 3z"/><path d="M602 3h5l-2.500 3z"/><path d="M908 3h5l-2.500 3z"/></g>
<!-- clock -->
<circle cx="547.500" cy="3.500" r="6.800" fill="#f4f8ff" stroke="#2868d0" stroke-width="2.200"/>
<path d="M547.500 0v4h3" stroke="#606060" stroke-width="1" fill="none"/>
<!-- template icon -->
<rect x="579.500" y="-3" width="15" height="13.500" rx="1" fill="#fff" stroke="#3878d0" stroke-width="1.200"/>
<path d="M580 5h14" stroke="#3878d0" stroke-width="0.800"/>
<path d="M582 2.500l3-1 3 .8 3-1.300 2 .5" stroke="#c03010" stroke-width="1" fill="none"/>
<path d="M582 8l3-1.200 2.500 1 3-2 2.500 1.500" stroke="#20a030" stroke-width="1" fill="none"/>
<!-- cursor -->
<path d="M631 -3v11l2.600-2.400l2.200 5l1.900-.9l-2.200-4.800l3.500-.4z" fill="#303030"/>
<!-- crosshair -->
<path d="M656 4.500h6M665 4.500h6M663.500 -1v4M663.500 6v6" stroke="#404040" stroke-width="1" shape-rendering="crispEdges"/>
<!-- line tools -->
<path d="M697.500 -1v12" stroke="#404040" stroke-width="1" shape-rendering="crispEdges"/>
<path d="M720 4.500h12" stroke="#404040" stroke-width="1" shape-rendering="crispEdges"/>
<path d="M748 11l12-11.500" stroke="#505050" stroke-width="1.100"/>
<g stroke="#505050" stroke-width="0.900"><path d="M774 9l11-10M777 11l11-10M776 5l2 4M779 2l2.500 5M782 -.5l2.500 5M785 -3l2.500 5"/></g>
<text x="784.500" y="12.500" font-size="6.500" font-weight="bold" fill="#303030">E</text>
<g stroke="#505050" stroke-width="1" stroke-dasharray="1 1" shape-rendering="crispEdges"><path d="M803 .5h13M803 4.500h13M803 8.500h9"/></g>
<text x="812.500" y="12.500" font-size="6.500" font-weight="bold" fill="#303030">F</text>
<text x="833.500" y="8.500" font-size="12.500" fill="#505050" stroke="#505050" stroke-width="0.300">A</text>
<rect x="860.500" y="-.5" width="11" height="11" fill="none" stroke="#505050" stroke-dasharray="1 1" shape-rendering="crispEdges"/>
<text x="862.300" y="9" font-size="10.500" fill="#404040" font-weight="bold">T</text>
<path d="M888 -1l2.500 2-2.500 2-2.500-2zM897.500 5l3 2.500-3 2.500-3-2.500z" fill="#404040"/><path d="M888.500 4l2.500 2.500l4.500-5.500" stroke="#404040" stroke-width="1.300" fill="none"/>
<!-- timeframes -->
<g font-size="10.500" fill="#303030">
<text x="934" y="8.300" textLength="13.500" lengthAdjust="spacingAndGlyphs">M1</text>
<text x="962.500" y="8.300" textLength="13" lengthAdjust="spacingAndGlyphs">M5</text>
<text x="988" y="8.300" textLength="18.500" lengthAdjust="spacingAndGlyphs">M15</text>
<text x="1016" y="8.300" textLength="19" lengthAdjust="spacingAndGlyphs">M30</text>
<text x="1047" y="8.300" textLength="13" lengthAdjust="spacingAndGlyphs">H1</text>
<text x="1074" y="8.300" textLength="13.500" lengthAdjust="spacingAndGlyphs">H4</text>
<text x="1103.500" y="8.300" textLength="13" lengthAdjust="spacingAndGlyphs">D1</text>
<text x="1131" y="8.300" textLength="14" lengthAdjust="spacingAndGlyphs">W1</text>
<text x="1157.500" y="8.300" textLength="15" lengthAdjust="spacingAndGlyphs">MN</text>
</g>
<!-- search + chat -->
<path d="M1647 5l-4 4" stroke="#2858d0" stroke-width="2.600" stroke-linecap="round"/>
<circle cx="1650" cy="1.500" r="4.300" fill="#fff" stroke="#3868e0" stroke-width="1.400"/>
<ellipse cx="1673" cy="6" rx="6.500" ry="5" fill="#d4d8e2" stroke="#b8bcc8" stroke-width="0.800"/><path d="M1669.500 9.500l.5 3.500 3-3z" fill="#d0d4dc"/>
<circle cx="1681.600" cy="1.300" r="8.400" fill="#e03418"/>
<path d="M1681.500 -3v8.500M1679 5.800h5" stroke="#fff" stroke-width="1.400"/>
</g>
</g>

</svg></body></html>
